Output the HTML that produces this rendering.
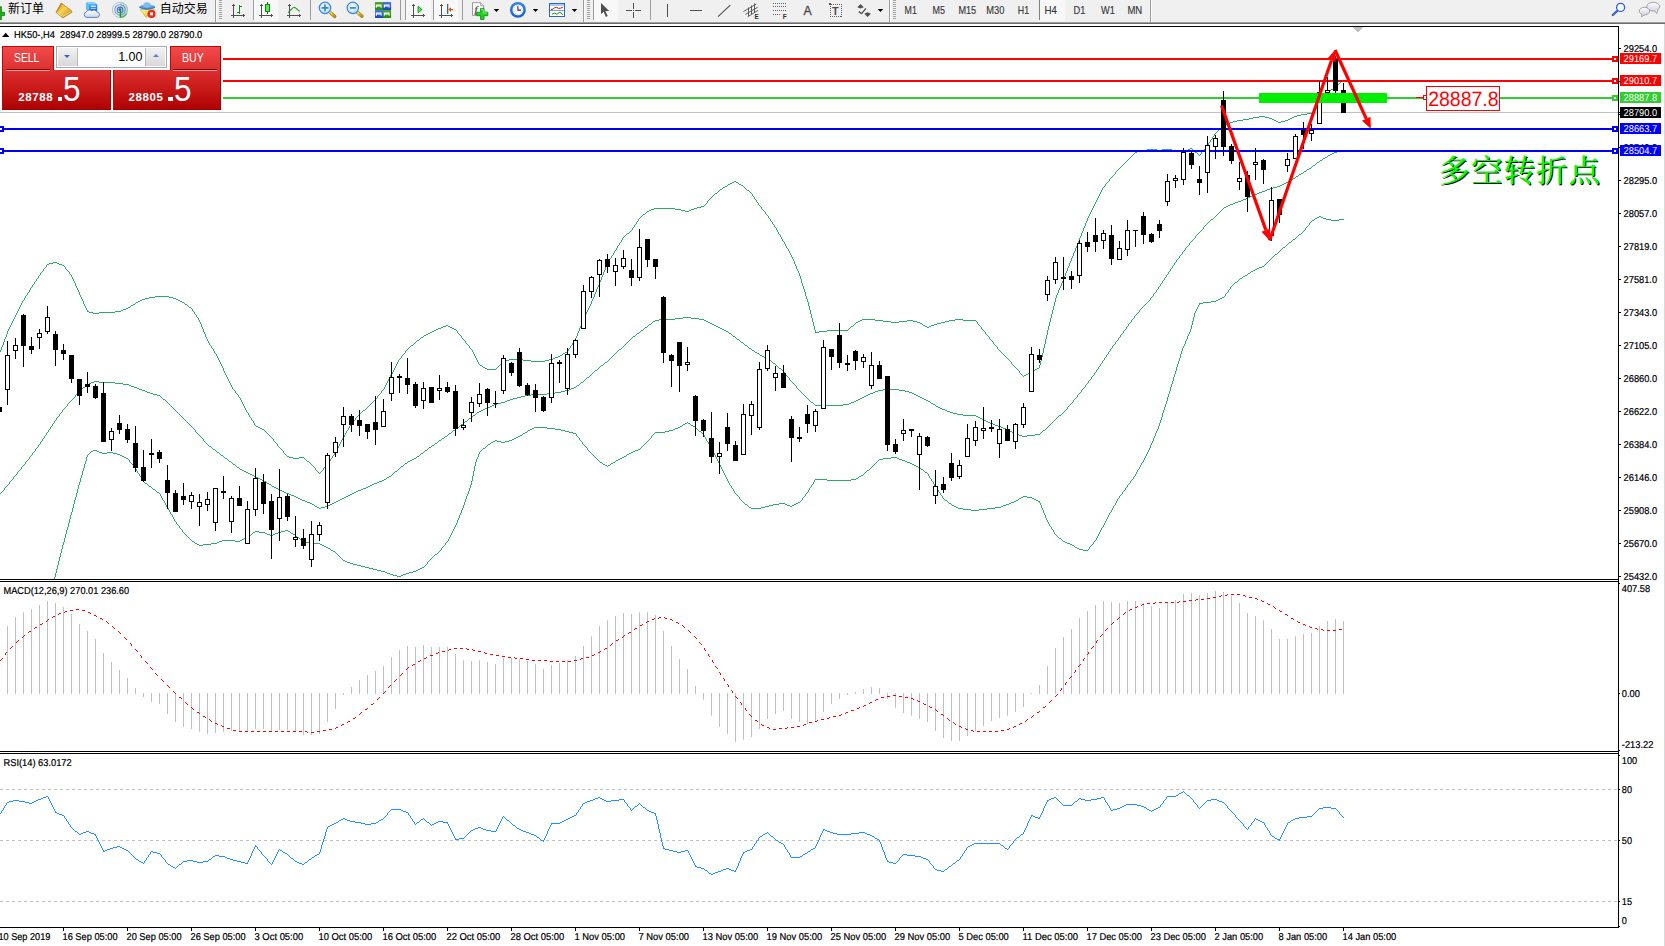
<!DOCTYPE html>
<html><head><meta charset="utf-8"><title>HK50-,H4</title>
<style>
html,body{margin:0;padding:0}
body{width:1665px;height:946px;overflow:hidden;background:#fff;position:relative;font-family:"Liberation Sans","Noto Sans CJK SC",sans-serif}
#tb{position:absolute;left:0;top:0;width:1665px;height:22px;background:#f0f0f0}
#tbl1{position:absolute;left:0;top:22px;width:1665px;height:1px;background:#a0a0a0}
#tbl2{position:absolute;left:0;top:23px;width:1665px;height:1px;background:#696969}
.t{position:absolute;white-space:nowrap}
.cn{font-size:12px;color:#000;top:2px;line-height:14px;font-family:"Liberation Sans","Noto Sans CJK SC",sans-serif}
.tf{font-size:9.5px;color:#404040;top:5px;line-height:11px}
.sep{position:absolute;top:1px;width:1px;height:19px;background:#a0a0a0}
.grip{position:absolute;top:2px;width:3px;height:18px;background:repeating-linear-gradient(to bottom,#b8b8b8 0,#b8b8b8 1px,#f0f0f0 1px,#f0f0f0 2px)}
.sel{position:absolute;top:0;height:21px;background:#f8f8f8}
.dd{position:absolute;top:9px;width:0;height:0;border-left:2.5px solid transparent;border-right:2.5px solid transparent;border-top:3px solid #000}
.ic{position:absolute;top:0;left:0}
#tp{position:absolute;left:0;top:0}
.red{position:absolute;background:linear-gradient(to bottom,#ee4444 0%,#d82828 45%,#b00000 100%)}
</style></head><body>
<div id="tb"></div><div id="tbl1"></div><div id="tbl2"></div>
<svg id="tbsvg" width="1665" height="26" viewBox="0 0 1665 26" style="position:absolute;left:0;top:0">
<defs>
<linearGradient id="gold" x1="0" y1="0" x2="1" y2="1"><stop offset="0" stop-color="#c8901a"/><stop offset="0.45" stop-color="#f8d452"/><stop offset="1" stop-color="#b87c10"/></linearGradient>
<linearGradient id="blu" x1="0" y1="0" x2="0" y2="1"><stop offset="0" stop-color="#35a2ff"/><stop offset="1" stop-color="#1675e0"/></linearGradient>
<linearGradient id="cld" x1="0" y1="0" x2="0" y2="1"><stop offset="0" stop-color="#ffffff"/><stop offset="1" stop-color="#c9d6ea"/></linearGradient>
<linearGradient id="grn" x1="0" y1="0" x2="1" y2="0"><stop offset="0" stop-color="#18b818"/><stop offset="0.5" stop-color="#7af07a"/><stop offset="1" stop-color="#18b818"/></linearGradient>
<linearGradient id="hat" x1="0" y1="0" x2="0" y2="1"><stop offset="0" stop-color="#7fc0ee"/><stop offset="1" stop-color="#2f7fd0"/></linearGradient>
<linearGradient id="face" x1="0" y1="0" x2="1" y2="1"><stop offset="0" stop-color="#fff0a0"/><stop offset="1" stop-color="#e8b820"/></linearGradient>
<radialGradient id="lens" cx="0.45" cy="0.4" r="0.65"><stop offset="0" stop-color="#f4fbff"/><stop offset="1" stop-color="#b4daf6"/></radialGradient>
<linearGradient id="hnd" x1="0" y1="0" x2="1" y2="1"><stop offset="0" stop-color="#f4e27a"/><stop offset="1" stop-color="#b88a10"/></linearGradient>
<radialGradient id="clk" cx="0.5" cy="0.35" r="0.75"><stop offset="0" stop-color="#4aa0ff"/><stop offset="1" stop-color="#0c50c0"/></radialGradient>
<linearGradient id="tblu" x1="0" y1="0" x2="0" y2="1"><stop offset="0" stop-color="#4a7ae8"/><stop offset="1" stop-color="#1a40c0"/></linearGradient>
<linearGradient id="tgrn" x1="0" y1="0" x2="0" y2="1"><stop offset="0" stop-color="#4aaa2a"/><stop offset="1" stop-color="#2a8a10"/></linearGradient>
<g id="axes" fill="#505050" shape-rendering="crispEdges"><rect x="2" y="5" width="1" height="13"/><rect x="0" y="15" width="13" height="1"/><rect x="1" y="5" width="3" height="1"/><rect x="12" y="14" width="1" height="3"/><rect x="2" y="4" width="1" height="1"/><rect x="13" y="15" width="1" height="1"/></g>
<g id="grip" shape-rendering="crispEdges" fill="#a4a4a4"><rect x="0" y="0" width="3" height="1"/><rect x="0" y="2" width="3" height="1"/><rect x="0" y="4" width="3" height="1"/><rect x="0" y="6" width="3" height="1"/><rect x="0" y="8" width="3" height="1"/><rect x="0" y="10" width="3" height="1"/><rect x="0" y="12" width="3" height="1"/><rect x="0" y="14" width="3" height="1"/><rect x="0" y="16" width="3" height="1"/><rect x="0" y="18" width="3" height="1"/></g>
<path id="dd" d="M0,0H5.4L2.7,3.1Z" fill="#000"/>
<g id="win"><path d="M0.8,2.6H6.6V5.8H5.6V4.8H1.8V5.8H0.8Z" fill="#f4f8ff"/></g>
</defs>
<!-- selected backgrounds -->
<g fill="#f8f8f8" shape-rendering="crispEdges">
<rect x="254" y="0" width="24" height="21"/><rect x="406" y="0" width="25" height="21"/><rect x="434" y="0" width="24" height="21"/><rect x="594" y="0" width="24" height="21"/><rect x="1040" y="0" width="25" height="21"/>
</g>
<!-- separators -->
<g fill="#9c9c9c" shape-rendering="crispEdges">
<rect x="215" y="0" width="1" height="22"/><rect x="253" y="0" width="1" height="20"/><rect x="310" y="0" width="1" height="20"/><rect x="400" y="0" width="1" height="20"/><rect x="405" y="0" width="1" height="20"/><rect x="433" y="0" width="1" height="20"/><rect x="462" y="0" width="1" height="20"/><rect x="583" y="0" width="1" height="22"/><rect x="593" y="0" width="1" height="20"/><rect x="650" y="0" width="1" height="20"/><rect x="889" y="0" width="1" height="22"/><rect x="1039" y="0" width="1" height="20" fill="#808080"/><rect x="1150" y="0" width="1" height="22"/>
<rect x="216" y="0" width="1" height="22" fill="#fbfbfb"/><rect x="584" y="0" width="1" height="22" fill="#fbfbfb"/><rect x="890" y="0" width="1" height="22" fill="#fbfbfb"/><rect x="1151" y="0" width="1" height="22" fill="#fbfbfb"/>
</g>
<use href="#grip" x="219"/><use href="#grip" x="587"/><use href="#grip" x="893"/>
<!-- green plus -->
<path d="M-1,6.8H1.4V12.2H4.5V15.6H1.4V19.6H-1Z" fill="#1ab01a" stroke="#0c6c0c" stroke-width="0.7"/>
<text x="8" y="13.3" font-family="Liberation Sans, Noto Sans CJK SC, sans-serif" font-size="12px" fill="#000">新订单</text>
<!-- gold book -->
<g><path d="M61.2,3L71.8,11V12.3L63,17.9L56,12.4Z" fill="url(#gold)" stroke="#a87410" stroke-width="0.7" stroke-linejoin="round"/><path d="M57,12.6L63,16.4L71.4,11.4" fill="none" stroke="#fff2b0" stroke-width="0.7" opacity="0.8"/><path d="M61.4,3.4C60,6 59,9 56.6,12" fill="none" stroke="#b07810" stroke-width="0.8"/></g>
<!-- server cloud -->
<g><path d="M86.2,2.6L93.8,2.3L97.2,4.2V11H89.4L86.2,9.2Z" fill="url(#blu)"/><path d="M86.2,2.6L89.4,4.4V11L86.2,9.2Z" fill="#5cc0ff"/><path d="M86.2,2.6L93.8,2.3L97.2,4.2L89.4,4.4Z" fill="#8ad4ff"/><rect x="90.8" y="5.6" width="5" height="1.3" fill="#eaf6ff"/><rect x="90.8" y="7.9" width="5" height="0.9" fill="#b4dcff"/>
<path d="M86.6,17.4A2.8,2.8 0 0 1 86.4,11.9A3.3,3.3 0 0 1 91.8,10.9A3,3 0 0 1 96.6,11.9A2.8,2.8 0 0 1 97.4,17.4Z" fill="url(#cld)" stroke="#5672b4" stroke-width="0.9"/></g>
<!-- signal -->
<g fill="none"><path d="M120,2A7.9,7.9 0 0 1 120,17.8Z" fill="#5cb85c" opacity="0.35"/><circle cx="120" cy="9.9" r="7.6" stroke="#9fb9e6" stroke-width="0.9"/><circle cx="120" cy="9.9" r="5.2" stroke="#6f98df" stroke-width="1.1"/><circle cx="120" cy="9.9" r="2.8" stroke="#3f73d6" stroke-width="1.1"/><circle cx="119.8" cy="9.6" r="1.3" fill="#1f55c8"/><path d="M120.4,10V17.6" stroke="#18a018" stroke-width="1.4"/><path d="M120.4,17.4A7.6,7.6 0 0 0 126.6,13.6" stroke="#3aa83a" stroke-width="1.2" opacity="0.8"/></g>
<!-- hat -->
<g><path d="M140,9.6H155L146,17.4Z" fill="url(#face)" stroke="#c9a020" stroke-width="0.5"/><ellipse cx="147.2" cy="6.9" rx="8" ry="2.4" fill="url(#hat)"/><ellipse cx="147" cy="5" rx="3.6" ry="2.8" fill="#7cbcec"/><path d="M139.6,7.4Q147,11.2 154.8,7.4" stroke="#2a6fc0" stroke-width="0.8" fill="none"/><circle cx="151.5" cy="13.9" r="4" fill="#d81c10"/><circle cx="151.5" cy="13.9" r="3.4" fill="#f03020"/><rect x="150.1" y="12.5" width="2.8" height="2.8" fill="#fff"/></g>
<text x="159.8" y="13.3" font-family="Liberation Sans, Noto Sans CJK SC, sans-serif" font-size="12px" fill="#000">自动交易</text>
<!-- bar chart -->
<use href="#axes" x="231" y="0"/><g fill="#128a12" shape-rendering="crispEdges"><rect x="239" y="5" width="1" height="9"/><rect x="240" y="6" width="2" height="1"/><rect x="237" y="12" width="2" height="1"/></g>
<!-- candle chart -->
<use href="#axes" x="259" y="0"/><g shape-rendering="crispEdges"><rect x="267" y="2" width="1" height="12" fill="#0c7c0c"/><rect x="265" y="4" width="5" height="8" fill="#0c8a0c"/><rect x="266" y="5" width="3" height="6" fill="#5ce65c"/></g>
<!-- line chart -->
<use href="#axes" x="287" y="0"/><path d="M288,12.6C290.5,11 292.5,7.2 294.2,7.2S297.5,10.3 299.8,11.3" stroke="#1a9a1a" stroke-width="1.1" fill="none"/>
<!-- zoom in -->
<g><path d="M330,12.2L334.8,16.5" stroke="#a07808" stroke-width="3.2" stroke-linecap="round"/><path d="M330,12.2L334.8,16.5" stroke="url(#hnd)" stroke-width="2.2" stroke-linecap="round"/><circle cx="325" cy="7.9" r="5.7" fill="url(#lens)" stroke="#3c84dc" stroke-width="1.2"/><path d="M321.6,7.9H328.4M325,4.5V11.3" stroke="#3a88b8" stroke-width="1.7"/></g>
<!-- zoom out -->
<g><path d="M357.4,12.2L362,16.3" stroke="#a07808" stroke-width="3.2" stroke-linecap="round"/><path d="M357.4,12.2L362,16.3" stroke="url(#hnd)" stroke-width="2.2" stroke-linecap="round"/><circle cx="352.8" cy="7.9" r="5.7" fill="url(#lens)" stroke="#3c84dc" stroke-width="1.2"/><path d="M349.8,7.9H355.8" stroke="#3a88b8" stroke-width="1.7"/></g>
<!-- tile -->
<g><rect x="375" y="2" width="8.1" height="8" fill="url(#tgrn)"/><rect x="383" y="2" width="8.1" height="8" fill="url(#tblu)"/><rect x="375" y="10" width="8.1" height="8" fill="url(#tblu)"/><rect x="383" y="10" width="8.1" height="8" fill="url(#tgrn)"/><use href="#win" x="375" y="2"/><use href="#win" x="383" y="2"/><use href="#win" x="375" y="10"/><use href="#win" x="383" y="10"/><rect x="377" y="5.8" width="3.6" height="0.8" fill="#7ac860"/><rect x="385" y="5.8" width="3.6" height="0.8" fill="#7a9af0"/><rect x="377" y="13.8" width="3.6" height="0.8" fill="#7a9af0"/><rect x="385" y="13.8" width="3.6" height="0.8" fill="#7ac860"/></g>
<!-- autoscroll -->
<use href="#axes" x="411" y="0"/><path d="M418,6.3L422.2,9.6L418,12.8Z" fill="#5ce05c" stroke="#129012" stroke-width="0.8"/>
<!-- chart shift -->
<use href="#axes" x="439" y="0"/><rect x="447" y="4" width="1.3" height="10" fill="#1a70a8"/><path d="M448.3,9.6L451,7.2V8.9H453.2V10.3H451V12Z" fill="#e85000"/>
<!-- indicators -->
<g><path d="M472.5,2.7H480.6L483.6,5.7V15.3H472.5Z" fill="#fdfdfd" stroke="#8c8c8c" stroke-width="0.9"/><path d="M480.6,2.7V5.7H483.6" fill="#e8e8e8" stroke="#8c8c8c" stroke-width="0.7"/><text x="474.6" y="12.6" font-family="Liberation Serif, serif" font-style="italic" font-weight="bold" font-size="10px" fill="#555">f</text><path d="M480.5,8.4H484V12.2H487.8V15.7H484V19.5H480.5V15.7H476.6V12.2H480.5Z" fill="#22d022" stroke="#0e8c0e" stroke-width="0.8"/><path d="M481.2,9.4H483.2V12.9H486.8" stroke="#8af88a" stroke-width="0.8" fill="none"/></g>
<use href="#dd" x="493.8" y="8.9"/>
<!-- clock -->
<g><circle cx="517.9" cy="9.9" r="7.9" fill="url(#clk)"/><circle cx="517.9" cy="9.9" r="5.4" fill="#f6faff"/><path d="M517.9,6.2V10.1H521" stroke="#303030" stroke-width="1.1" fill="none"/><circle cx="517.9" cy="9.9" r="4.3" fill="none" stroke="#9ab0d0" stroke-width="0.6" stroke-dasharray="0.7,1.55"/></g>
<use href="#dd" x="532.8" y="8.9"/>
<!-- template -->
<g shape-rendering="crispEdges"><rect x="549" y="3" width="16" height="14" fill="#2a68c8"/><rect x="550" y="4" width="14" height="2" fill="#a8ccf8"/><rect x="550" y="6" width="14" height="4" fill="#fff"/><rect x="550" y="11" width="14" height="5" fill="#fff"/><rect x="550" y="10" width="14" height="1" fill="#7aa4e0"/></g><path d="M551,9.4L553,9.2L554.5,7.9L556.5,7.3L558.5,8.3L560.5,8.2L562.8,7.2" stroke="#a82000" stroke-width="1" fill="none"/><path d="M552,14.2L554.5,13.2L557,14.3L559.8,12.2L562.8,14.6" stroke="#108a10" stroke-width="1" fill="none"/>
<use href="#dd" x="571.8" y="8.9"/>
<!-- cursor -->
<path d="M601,3V14.2L603.6,11.8L605.9,16.9L607.7,16.1L605.4,11.1H609.2Z" fill="#505050"/>
<!-- crosshair -->
<g fill="#505050" shape-rendering="crispEdges"><rect x="633" y="3" width="1" height="6"/><rect x="633" y="12" width="1" height="6"/><rect x="626" y="10" width="6" height="1"/><rect x="635" y="10" width="6" height="1"/><rect x="633" y="10" width="1" height="1"/></g>
<!-- vline hline trend -->
<g fill="#505050" shape-rendering="crispEdges"><rect x="667" y="4" width="1" height="13"/><rect x="690" y="10" width="12" height="1"/></g><path d="M718,16.7L730.3,5.2" stroke="#505050" stroke-width="1.1"/>
<!-- channel -->
<g stroke="#505050" stroke-width="0.9" fill="none"><path d="M743.4,11.6L756.3,4M745.4,14.4L757.6,7.3M747.6,16.8L758,10.4M748.5,7.5V16M751.5,5.5V14.2M754.5,3.4V12.4"/></g><text x="754.6" y="18.9" font-family="Liberation Sans, sans-serif" font-weight="bold" font-size="6.4px" fill="#303030">E</text>
<!-- fibo -->
<g stroke="#606060" stroke-width="1" stroke-dasharray="1,1" shape-rendering="crispEdges"><path d="M773,3.5H786M773,6.5H786M773,10.5H786M773,14.5H781"/></g><text x="782.8" y="18.9" font-family="Liberation Sans, sans-serif" font-weight="bold" font-size="6.4px" fill="#303030">F</text>
<!-- A -->
<text x="803.4" y="14.9" font-family="Liberation Sans, sans-serif" font-size="12.3px" fill="#505050" stroke="#505050" stroke-width="0.35">A</text>
<!-- T box -->
<rect x="830.5" y="4.5" width="11" height="12" fill="none" stroke="#606060" stroke-width="1" stroke-dasharray="1,1" shape-rendering="crispEdges"/><rect x="829" y="3" width="2" height="2" fill="#505050"/><text x="832.1" y="14.9" font-family="Liberation Sans, sans-serif" font-weight="bold" font-size="11px" fill="#505050">T</text>
<!-- arrows -->
<g fill="#505050"><path d="M860.5,4L863.8,7.2L860.5,8.6L857.3,7.2Z"/><path d="M867.6,16.9L864.3,13.8L867.6,12.3L870.9,13.8Z"/><path d="M858.8,11.6L861.6,13.6L865.9,8.4" stroke="#505050" stroke-width="1.3" fill="none"/></g>
<use href="#dd" x="877.8" y="8.9"/>
<!-- timeframes -->
<g font-family="Liberation Sans, sans-serif" font-size="10.2px" fill="#383838" stroke="#383838" stroke-width="0.15">
<text x="904.6" y="13.9" textLength="12.2" lengthAdjust="spacingAndGlyphs">M1</text><text x="932.6" y="13.9" textLength="12.4" lengthAdjust="spacingAndGlyphs">M5</text><text x="958.4" y="13.9" textLength="17.8" lengthAdjust="spacingAndGlyphs">M15</text><text x="986.3" y="13.9" textLength="18.0" lengthAdjust="spacingAndGlyphs">M30</text><text x="1017.8" y="13.9" textLength="11.3" lengthAdjust="spacingAndGlyphs">H1</text><text x="1044.4" y="13.9" textLength="12.4" lengthAdjust="spacingAndGlyphs">H4</text><text x="1073.6" y="13.9" textLength="11.8" lengthAdjust="spacingAndGlyphs">D1</text><text x="1101.0" y="13.9" textLength="13.8" lengthAdjust="spacingAndGlyphs">W1</text><text x="1127.4" y="13.9" textLength="14.8" lengthAdjust="spacingAndGlyphs">MN</text>
</g>
<!-- search -->
<g><path d="M1617.4,10.7L1612.8,15" stroke="#2050c8" stroke-width="2.2" stroke-linecap="round"/><path d="M1617.4,10.7L1612.8,15" stroke="#7aa0f0" stroke-width="1" stroke-dasharray="0.8,0.8"/><circle cx="1620.6" cy="7.4" r="4" fill="#fbfcff" stroke="#2a60d8" stroke-width="1.3"/></g>
<!-- chat -->
<defs><linearGradient id="bub" x1="0" y1="0" x2="0" y2="1"><stop offset="0" stop-color="#ffffff"/><stop offset="1" stop-color="#d4d4e6"/></linearGradient></defs>
<g fill="url(#bub)" stroke="#8e8e8e" stroke-width="0.8"><path d="M1654.6,10.4L1656.8,13.5L1657.6,9.9Z"/><ellipse cx="1653.2" cy="6.7" rx="6.5" ry="4.4"/><path d="M1655,10.2L1656.6,12.6L1657.2,9.8Z" stroke="none"/><path d="M1642.4,14L1641.4,16.8L1644.8,14.6Z"/><ellipse cx="1644.4" cy="11.1" rx="5.2" ry="3.8"/><path d="M1642.7,13.8L1642,15.8L1644.4,14.4Z" stroke="none"/></g>
</svg>

<svg id="chart" width="1665" height="946" viewBox="0 0 1665 946" text-rendering="geometricPrecision" style="position:absolute;left:0;top:0">
<defs><clipPath id="cm"><rect x="0" y="27" width="1618" height="552"/></clipPath></defs>
<g shape-rendering="crispEdges">
<rect x="0" y="26" width="1619" height="1" fill="#000"/>
<rect x="0" y="579" width="1619" height="1" fill="#000"/>
<rect x="0" y="581" width="1619" height="1" fill="#000"/>
<rect x="0" y="751" width="1619" height="1" fill="#000"/>
<rect x="0" y="753" width="1619" height="1" fill="#000"/>
<rect x="0" y="927" width="1619" height="1" fill="#000"/>
<rect x="1618" y="26" width="1" height="902" fill="#000"/>
<rect x="1664" y="24" width="1" height="922" fill="#d9d9d9"/>
<rect x="0" y="112" width="1618" height="1" fill="#c0c0c0"/>
<line x1="0" y1="789.5" x2="1618" y2="789.5" stroke="#c0c0c0" stroke-width="1" stroke-dasharray="3,3"/>
<line x1="0" y1="840.5" x2="1618" y2="840.5" stroke="#c0c0c0" stroke-width="1" stroke-dasharray="3,3"/>
<line x1="0" y1="901.5" x2="1618" y2="901.5" stroke="#c0c0c0" stroke-width="1" stroke-dasharray="3,3"/>
<rect x="7" y="626.0" width="1" height="68.0" fill="#c0c0c0"/>
<rect x="15" y="617.0" width="1" height="77.0" fill="#c0c0c0"/>
<rect x="23" y="612.0" width="1" height="82.0" fill="#c0c0c0"/>
<rect x="31" y="609.0" width="1" height="85.0" fill="#c0c0c0"/>
<rect x="39" y="605.0" width="1" height="89.0" fill="#c0c0c0"/>
<rect x="47" y="601.0" width="1" height="93.0" fill="#c0c0c0"/>
<rect x="55" y="603.0" width="1" height="91.0" fill="#c0c0c0"/>
<rect x="63" y="607.0" width="1" height="87.0" fill="#c0c0c0"/>
<rect x="71" y="614.0" width="1" height="80.0" fill="#c0c0c0"/>
<rect x="79" y="624.0" width="1" height="70.0" fill="#c0c0c0"/>
<rect x="87" y="631.0" width="1" height="63.0" fill="#c0c0c0"/>
<rect x="95" y="639.0" width="1" height="55.0" fill="#c0c0c0"/>
<rect x="103" y="653.0" width="1" height="41.0" fill="#c0c0c0"/>
<rect x="111" y="662.0" width="1" height="32.0" fill="#c0c0c0"/>
<rect x="119" y="670.0" width="1" height="24.0" fill="#c0c0c0"/>
<rect x="127" y="678.0" width="1" height="16.0" fill="#c0c0c0"/>
<rect x="135" y="688.0" width="1" height="6.0" fill="#c0c0c0"/>
<rect x="143" y="693.0" width="1" height="4.0" fill="#c0c0c0"/>
<rect x="151" y="693.0" width="1" height="9.0" fill="#c0c0c0"/>
<rect x="159" y="693.0" width="1" height="11.0" fill="#c0c0c0"/>
<rect x="167" y="693.0" width="1" height="21.0" fill="#c0c0c0"/>
<rect x="175" y="693.0" width="1" height="29.0" fill="#c0c0c0"/>
<rect x="183" y="693.0" width="1" height="34.0" fill="#c0c0c0"/>
<rect x="191" y="693.0" width="1" height="36.0" fill="#c0c0c0"/>
<rect x="199" y="693.0" width="1" height="39.0" fill="#c0c0c0"/>
<rect x="207" y="693.0" width="1" height="41.0" fill="#c0c0c0"/>
<rect x="215" y="693.0" width="1" height="40.0" fill="#c0c0c0"/>
<rect x="223" y="693.0" width="1" height="39.0" fill="#c0c0c0"/>
<rect x="231" y="693.0" width="1" height="38.0" fill="#c0c0c0"/>
<rect x="239" y="693.0" width="1" height="39.0" fill="#c0c0c0"/>
<rect x="247" y="693.0" width="1" height="39.0" fill="#c0c0c0"/>
<rect x="255" y="693.0" width="1" height="36.0" fill="#c0c0c0"/>
<rect x="263" y="693.0" width="1" height="36.0" fill="#c0c0c0"/>
<rect x="271" y="693.0" width="1" height="38.0" fill="#c0c0c0"/>
<rect x="279" y="693.0" width="1" height="37.0" fill="#c0c0c0"/>
<rect x="287" y="693.0" width="1" height="37.0" fill="#c0c0c0"/>
<rect x="295" y="693.0" width="1" height="39.0" fill="#c0c0c0"/>
<rect x="303" y="693.0" width="1" height="42.0" fill="#c0c0c0"/>
<rect x="311" y="693.0" width="1" height="42.0" fill="#c0c0c0"/>
<rect x="319" y="693.0" width="1" height="41.0" fill="#c0c0c0"/>
<rect x="327" y="693.0" width="1" height="29.0" fill="#c0c0c0"/>
<rect x="335" y="693.0" width="1" height="16.0" fill="#c0c0c0"/>
<rect x="343" y="693.0" width="1" height="2.0" fill="#c0c0c0"/>
<rect x="351" y="687.0" width="1" height="7.0" fill="#c0c0c0"/>
<rect x="359" y="680.0" width="1" height="14.0" fill="#c0c0c0"/>
<rect x="367" y="675.0" width="1" height="19.0" fill="#c0c0c0"/>
<rect x="375" y="671.0" width="1" height="23.0" fill="#c0c0c0"/>
<rect x="383" y="666.0" width="1" height="28.0" fill="#c0c0c0"/>
<rect x="391" y="657.0" width="1" height="37.0" fill="#c0c0c0"/>
<rect x="399" y="650.0" width="1" height="44.0" fill="#c0c0c0"/>
<rect x="407" y="646.0" width="1" height="48.0" fill="#c0c0c0"/>
<rect x="415" y="647.0" width="1" height="47.0" fill="#c0c0c0"/>
<rect x="423" y="645.0" width="1" height="49.0" fill="#c0c0c0"/>
<rect x="431" y="647.0" width="1" height="47.0" fill="#c0c0c0"/>
<rect x="439" y="647.0" width="1" height="47.0" fill="#c0c0c0"/>
<rect x="447" y="647.0" width="1" height="47.0" fill="#c0c0c0"/>
<rect x="455" y="654.0" width="1" height="40.0" fill="#c0c0c0"/>
<rect x="463" y="660.0" width="1" height="34.0" fill="#c0c0c0"/>
<rect x="471" y="661.0" width="1" height="33.0" fill="#c0c0c0"/>
<rect x="479" y="660.0" width="1" height="34.0" fill="#c0c0c0"/>
<rect x="487" y="662.0" width="1" height="32.0" fill="#c0c0c0"/>
<rect x="495" y="664.0" width="1" height="30.0" fill="#c0c0c0"/>
<rect x="503" y="658.0" width="1" height="36.0" fill="#c0c0c0"/>
<rect x="511" y="658.0" width="1" height="36.0" fill="#c0c0c0"/>
<rect x="519" y="659.0" width="1" height="35.0" fill="#c0c0c0"/>
<rect x="527" y="661.0" width="1" height="33.0" fill="#c0c0c0"/>
<rect x="535" y="664.0" width="1" height="30.0" fill="#c0c0c0"/>
<rect x="543" y="669.0" width="1" height="25.0" fill="#c0c0c0"/>
<rect x="551" y="665.0" width="1" height="29.0" fill="#c0c0c0"/>
<rect x="559" y="663.0" width="1" height="31.0" fill="#c0c0c0"/>
<rect x="567" y="660.0" width="1" height="34.0" fill="#c0c0c0"/>
<rect x="575" y="656.0" width="1" height="38.0" fill="#c0c0c0"/>
<rect x="583" y="646.0" width="1" height="48.0" fill="#c0c0c0"/>
<rect x="591" y="636.0" width="1" height="58.0" fill="#c0c0c0"/>
<rect x="599" y="626.0" width="1" height="68.0" fill="#c0c0c0"/>
<rect x="607" y="620.0" width="1" height="74.0" fill="#c0c0c0"/>
<rect x="615" y="616.0" width="1" height="78.0" fill="#c0c0c0"/>
<rect x="623" y="613.0" width="1" height="81.0" fill="#c0c0c0"/>
<rect x="631" y="614.0" width="1" height="80.0" fill="#c0c0c0"/>
<rect x="639" y="612.0" width="1" height="82.0" fill="#c0c0c0"/>
<rect x="647" y="612.0" width="1" height="82.0" fill="#c0c0c0"/>
<rect x="655" y="615.0" width="1" height="79.0" fill="#c0c0c0"/>
<rect x="663" y="631.0" width="1" height="63.0" fill="#c0c0c0"/>
<rect x="671" y="646.0" width="1" height="48.0" fill="#c0c0c0"/>
<rect x="679" y="659.0" width="1" height="35.0" fill="#c0c0c0"/>
<rect x="687" y="669.0" width="1" height="25.0" fill="#c0c0c0"/>
<rect x="695" y="686.0" width="1" height="8.0" fill="#c0c0c0"/>
<rect x="703" y="693.0" width="1" height="7.0" fill="#c0c0c0"/>
<rect x="711" y="693.0" width="1" height="23.0" fill="#c0c0c0"/>
<rect x="719" y="693.0" width="1" height="34.0" fill="#c0c0c0"/>
<rect x="727" y="693.0" width="1" height="41.0" fill="#c0c0c0"/>
<rect x="735" y="693.0" width="1" height="49.0" fill="#c0c0c0"/>
<rect x="743" y="693.0" width="1" height="47.0" fill="#c0c0c0"/>
<rect x="751" y="693.0" width="1" height="44.0" fill="#c0c0c0"/>
<rect x="759" y="693.0" width="1" height="36.0" fill="#c0c0c0"/>
<rect x="767" y="693.0" width="1" height="26.0" fill="#c0c0c0"/>
<rect x="775" y="693.0" width="1" height="21.0" fill="#c0c0c0"/>
<rect x="783" y="693.0" width="1" height="18.0" fill="#c0c0c0"/>
<rect x="791" y="693.0" width="1" height="26.0" fill="#c0c0c0"/>
<rect x="799" y="693.0" width="1" height="29.0" fill="#c0c0c0"/>
<rect x="807" y="693.0" width="1" height="31.0" fill="#c0c0c0"/>
<rect x="815" y="693.0" width="1" height="29.0" fill="#c0c0c0"/>
<rect x="823" y="693.0" width="1" height="19.0" fill="#c0c0c0"/>
<rect x="831" y="693.0" width="1" height="11.0" fill="#c0c0c0"/>
<rect x="839" y="693.0" width="1" height="6.0" fill="#c0c0c0"/>
<rect x="847" y="693.0" width="1" height="2.0" fill="#c0c0c0"/>
<rect x="855" y="692.0" width="1" height="2.0" fill="#c0c0c0"/>
<rect x="863" y="689.0" width="1" height="5.0" fill="#c0c0c0"/>
<rect x="871" y="687.0" width="1" height="7.0" fill="#c0c0c0"/>
<rect x="879" y="688.0" width="1" height="6.0" fill="#c0c0c0"/>
<rect x="887" y="693.0" width="1" height="6.0" fill="#c0c0c0"/>
<rect x="895" y="693.0" width="1" height="15.0" fill="#c0c0c0"/>
<rect x="903" y="693.0" width="1" height="20.0" fill="#c0c0c0"/>
<rect x="911" y="693.0" width="1" height="23.0" fill="#c0c0c0"/>
<rect x="919" y="693.0" width="1" height="26.0" fill="#c0c0c0"/>
<rect x="927" y="693.0" width="1" height="29.0" fill="#c0c0c0"/>
<rect x="935" y="693.0" width="1" height="38.0" fill="#c0c0c0"/>
<rect x="943" y="693.0" width="1" height="45.0" fill="#c0c0c0"/>
<rect x="951" y="693.0" width="1" height="48.0" fill="#c0c0c0"/>
<rect x="959" y="693.0" width="1" height="48.0" fill="#c0c0c0"/>
<rect x="967" y="693.0" width="1" height="43.0" fill="#c0c0c0"/>
<rect x="975" y="693.0" width="1" height="38.0" fill="#c0c0c0"/>
<rect x="983" y="693.0" width="1" height="33.0" fill="#c0c0c0"/>
<rect x="991" y="693.0" width="1" height="28.0" fill="#c0c0c0"/>
<rect x="999" y="693.0" width="1" height="25.0" fill="#c0c0c0"/>
<rect x="1007" y="693.0" width="1" height="23.0" fill="#c0c0c0"/>
<rect x="1015" y="693.0" width="1" height="19.0" fill="#c0c0c0"/>
<rect x="1023" y="693.0" width="1" height="14.0" fill="#c0c0c0"/>
<rect x="1031" y="693.0" width="1" height="1.0" fill="#c0c0c0"/>
<rect x="1039" y="685.0" width="1" height="9.0" fill="#c0c0c0"/>
<rect x="1047" y="666.0" width="1" height="28.0" fill="#c0c0c0"/>
<rect x="1055" y="648.0" width="1" height="46.0" fill="#c0c0c0"/>
<rect x="1063" y="637.0" width="1" height="57.0" fill="#c0c0c0"/>
<rect x="1071" y="629.0" width="1" height="65.0" fill="#c0c0c0"/>
<rect x="1079" y="618.0" width="1" height="76.0" fill="#c0c0c0"/>
<rect x="1087" y="611.0" width="1" height="83.0" fill="#c0c0c0"/>
<rect x="1095" y="605.0" width="1" height="89.0" fill="#c0c0c0"/>
<rect x="1103" y="601.0" width="1" height="93.0" fill="#c0c0c0"/>
<rect x="1111" y="602.0" width="1" height="92.0" fill="#c0c0c0"/>
<rect x="1119" y="603.0" width="1" height="91.0" fill="#c0c0c0"/>
<rect x="1127" y="601.0" width="1" height="93.0" fill="#c0c0c0"/>
<rect x="1135" y="601.0" width="1" height="93.0" fill="#c0c0c0"/>
<rect x="1143" y="603.0" width="1" height="91.0" fill="#c0c0c0"/>
<rect x="1151" y="606.0" width="1" height="88.0" fill="#c0c0c0"/>
<rect x="1159" y="608.0" width="1" height="86.0" fill="#c0c0c0"/>
<rect x="1167" y="603.0" width="1" height="91.0" fill="#c0c0c0"/>
<rect x="1175" y="600.0" width="1" height="94.0" fill="#c0c0c0"/>
<rect x="1183" y="594.0" width="1" height="100.0" fill="#c0c0c0"/>
<rect x="1191" y="593.0" width="1" height="101.0" fill="#c0c0c0"/>
<rect x="1199" y="595.0" width="1" height="99.0" fill="#c0c0c0"/>
<rect x="1207" y="593.0" width="1" height="101.0" fill="#c0c0c0"/>
<rect x="1215" y="591.0" width="1" height="103.0" fill="#c0c0c0"/>
<rect x="1223" y="592.0" width="1" height="102.0" fill="#c0c0c0"/>
<rect x="1231" y="596.0" width="1" height="98.0" fill="#c0c0c0"/>
<rect x="1239" y="603.0" width="1" height="91.0" fill="#c0c0c0"/>
<rect x="1247" y="613.0" width="1" height="81.0" fill="#c0c0c0"/>
<rect x="1255" y="616.0" width="1" height="78.0" fill="#c0c0c0"/>
<rect x="1263" y="620.0" width="1" height="74.0" fill="#c0c0c0"/>
<rect x="1271" y="629.0" width="1" height="65.0" fill="#c0c0c0"/>
<rect x="1279" y="639.0" width="1" height="55.0" fill="#c0c0c0"/>
<rect x="1287" y="639.0" width="1" height="55.0" fill="#c0c0c0"/>
<rect x="1295" y="636.0" width="1" height="58.0" fill="#c0c0c0"/>
<rect x="1303" y="634.0" width="1" height="60.0" fill="#c0c0c0"/>
<rect x="1311" y="633.0" width="1" height="61.0" fill="#c0c0c0"/>
<rect x="1319" y="626.0" width="1" height="68.0" fill="#c0c0c0"/>
<rect x="1327" y="621.0" width="1" height="73.0" fill="#c0c0c0"/>
<rect x="1335" y="619.0" width="1" height="75.0" fill="#c0c0c0"/>
<rect x="1343" y="621.0" width="1" height="73.0" fill="#c0c0c0"/>
</g>
<g clip-path="url(#cm)" shape-rendering="crispEdges">
<path d="M1341 81.5h2M1337 84.5h2M1331 89.5h2M1307 113.5h5M1301 114.5h6M1297 115.5h4M1259 116.5h6M1294 116.5h3M1253 117.5h6M1265 117.5h4M1292 117.5h2M1249 118.5h4M1269 118.5h3M1290 118.5h2M1243 119.5h6M1272 119.5h2M1288 119.5h2M1237 120.5h6M1274 120.5h2M1285 120.5h3M1233 121.5h4M1276 121.5h2M1281 121.5h4M1230 122.5h3M1278 122.5h3M1228 123.5h2M1226 124.5h2M1224 125.5h2M1219 129.5h2M1190 148.5h2M1147 149.5h10M1162 149.5h10M1188 149.5h2M1139 150.5h8M1156 150.5h6M1171 150.5h17M1137 151.5h2M1135 152.5h2M1195 152.5h2M734 181.5h2M732 182.5h2M736 182.5h2M730 183.5h2M728 184.5h2M739 184.5h2M741 185.5h2M725 186.5h2M723 187.5h2M720 189.5h2M747 190.5h2M715 193.5h2M701 206.5h3M697 207.5h4M654 208.5h21M694 208.5h3M651 209.5h3M675 209.5h6M691 209.5h3M649 210.5h2M681 210.5h4M689 210.5h2M647 211.5h2M685 211.5h4M643 214.5h2M627 233.5h2M53 262.5h4M49 263.5h4M57 263.5h2M47 264.5h2M59 264.5h3M62 265.5h2M155 296.5h14M149 297.5h6M169 297.5h4M145 298.5h4M173 298.5h3M142 299.5h3M176 299.5h2M140 300.5h2M178 300.5h2M138 301.5h2M180 301.5h2M136 302.5h2M182 302.5h2M133 304.5h2M185 304.5h2M131 305.5h2M128 307.5h2M189 307.5h2M126 308.5h2M123 309.5h3M121 310.5h2M87 311.5h2M115 311.5h6M89 312.5h4M99 312.5h16M93 313.5h6M862 319.5h13M955 319.5h8M860 320.5h2M875 320.5h8M907 320.5h6M949 320.5h6M963 320.5h13M858 321.5h2M883 321.5h8M899 321.5h8M913 321.5h4M945 321.5h4M856 322.5h2M891 322.5h8M917 322.5h3M941 322.5h4M920 323.5h2M937 323.5h4M934 324.5h3M446 325.5h2M923 325.5h2M931 325.5h3M443 326.5h3M448 326.5h2M851 326.5h2M925 326.5h2M929 326.5h2M441 327.5h2M450 327.5h2M927 327.5h2M438 328.5h3M452 328.5h2M436 329.5h2M454 329.5h2M434 330.5h2M827 330.5h21M432 331.5h2M819 331.5h8M430 332.5h2M815 332.5h4M428 333.5h2M426 334.5h2M424 335.5h2M421 337.5h2M417 340.5h2M411 345.5h2M565 352.5h2M563 353.5h2M560 355.5h2M558 356.5h2M555 357.5h3M553 358.5h2M509 359.5h14M549 359.5h4M505 360.5h4M523 360.5h8M545 360.5h4M503 361.5h2M531 361.5h14M480 365.5h2M483 367.5h2M485 368.5h2M1037 368.5h2M487 369.5h9M1035 369.5h2M1032 371.5h2M1030 372.5h2M1028 373.5h2M1026 374.5h2M1024 375.5h2M363 410.5h2M256 426.5h2M258 427.5h2M260 428.5h2M262 429.5h2M287 456.5h2M289 457.5h4M299 457.5h5M293 458.5h6M307 461.5h2M0.5 350v2M1.5 347v3M2.5 345v2M3.5 342v3M4.5 339v3M5.5 337v2M6.5 334v3M7.5 331v3M8.5 329v2M9.5 327v2M10.5 325v2M11.5 323v2M12.5 321v2M13.5 319v2M14.5 317v2M15.5 315v2M16.5 313v2M17.5 311v2M18.5 309v2M19.5 307v2M20.5 305v2M21.5 303v2M22.5 301v2M23.5 300v1M24.5 298v2M25.5 296v2M26.5 295v1M27.5 293v2M28.5 292v1M29.5 290v2M30.5 288v2M31.5 287v1M32.5 285v2M33.5 284v1M34.5 282v2M35.5 281v1M36.5 279v2M37.5 278v1M38.5 276v2M39.5 275v1M40.5 273v2M41.5 272v1M42.5 271v1M43.5 269v2M44.5 268v1M45.5 267v1M46.5 265v2M64.5 266v1M65.5 267v2M66.5 269v1M67.5 270v1M68.5 271v1M69.5 272v2M70.5 274v1M71.5 275v2M72.5 277v2M73.5 279v2M74.5 281v2M75.5 283v3M76.5 286v2M77.5 288v2M78.5 290v2M79.5 292v3M80.5 295v2M81.5 297v2M82.5 299v2M83.5 301v3M84.5 304v2M85.5 306v2M86.5 308v2M87.5 310v1M130.5 306v1M135.5 303v1M184.5 303v1M187.5 305v1M188.5 306v1M191.5 308v1M192.5 309v2M193.5 311v1M194.5 312v2M195.5 314v1M196.5 315v2M197.5 317v1M198.5 318v2M199.5 320v2M200.5 322v2M201.5 324v3M202.5 327v2M203.5 329v3M204.5 332v2M205.5 334v3M206.5 337v2M207.5 339v2M208.5 341v2M209.5 343v2M210.5 345v1M211.5 346v2M212.5 348v1M213.5 349v2M214.5 351v2M215.5 353v1M216.5 354v2M217.5 356v2M218.5 358v2M219.5 360v2M220.5 362v2M221.5 364v2M222.5 366v2M223.5 368v3M224.5 371v2M225.5 373v2M226.5 375v2M227.5 377v2M228.5 379v2M229.5 381v2M230.5 383v2M231.5 385v2M232.5 387v2M233.5 389v1M234.5 390v1M235.5 391v2M236.5 393v1M237.5 394v1M238.5 395v2M239.5 397v1M240.5 398v2M241.5 400v2M242.5 402v2M243.5 404v2M244.5 406v2M245.5 408v2M246.5 410v2M247.5 412v1M248.5 413v2M249.5 415v2M250.5 417v1M251.5 418v2M252.5 420v1M253.5 421v2M254.5 423v2M255.5 425v1M264.5 430v1M265.5 431v1M266.5 432v1M267.5 433v1M268.5 434v1M269.5 435v1M270.5 436v1M271.5 437v1M272.5 438v1M273.5 439v2M274.5 441v1M275.5 442v1M276.5 443v1M277.5 444v2M278.5 446v1M279.5 447v1M280.5 448v1M281.5 449v1M282.5 450v1M283.5 451v2M284.5 453v1M285.5 454v1M286.5 455v1M304.5 458v1M305.5 459v1M306.5 460v1M309.5 462v1M310.5 463v1M311.5 464v1M312.5 465v1M313.5 466v1M314.5 467v1M315.5 468v2M316.5 470v1M317.5 471v1M318.5 472v1M319.5 473v1M320.5 472v1M321.5 471v1M322.5 470v1M323.5 468v2M324.5 467v1M325.5 466v1M326.5 465v1M327.5 464v1M328.5 462v2M329.5 461v1M330.5 459v2M331.5 458v1M332.5 456v2M333.5 455v1M334.5 453v2M335.5 452v1M336.5 450v2M337.5 448v2M338.5 446v2M339.5 444v2M340.5 442v2M341.5 440v2M342.5 438v2M343.5 437v1M344.5 435v2M345.5 433v2M346.5 431v2M347.5 430v1M348.5 428v2M349.5 426v2M350.5 424v2M351.5 423v1M352.5 422v1M353.5 421v1M354.5 420v1M355.5 418v2M356.5 417v1M357.5 416v1M358.5 415v1M359.5 414v1M360.5 413v1M361.5 412v1M362.5 411v1M365.5 409v1M366.5 408v1M367.5 407v1M368.5 406v1M369.5 405v1M370.5 404v1M371.5 403v1M372.5 402v1M373.5 401v1M374.5 400v1M375.5 399v1M376.5 398v1M377.5 396v2M378.5 395v1M379.5 394v1M380.5 393v1M381.5 391v2M382.5 390v1M383.5 389v1M384.5 387v2M385.5 385v2M386.5 383v2M387.5 381v2M388.5 379v2M389.5 377v2M390.5 375v2M391.5 374v1M392.5 372v2M393.5 370v2M394.5 368v2M395.5 366v2M396.5 364v2M397.5 362v2M398.5 360v2M399.5 359v1M400.5 358v1M401.5 356v2M402.5 355v1M403.5 354v1M404.5 353v1M405.5 351v2M406.5 350v1M407.5 349v1M408.5 348v1M409.5 347v1M410.5 346v1M413.5 344v1M414.5 343v1M415.5 342v1M416.5 341v1M419.5 339v1M420.5 338v1M423.5 336v1M456.5 330v1M457.5 331v2M458.5 333v1M459.5 334v1M460.5 335v1M461.5 336v2M462.5 338v1M463.5 339v1M464.5 340v1M465.5 341v2M466.5 343v1M467.5 344v1M468.5 345v1M469.5 346v2M470.5 348v1M471.5 349v1M472.5 350v2M473.5 352v2M474.5 354v2M475.5 356v2M476.5 358v2M477.5 360v2M478.5 362v2M479.5 364v1M482.5 366v1M496.5 368v1M497.5 367v1M498.5 366v1M499.5 365v1M500.5 364v1M501.5 363v1M502.5 362v1M562.5 354v1M567.5 351v1M568.5 349v2M569.5 348v1M570.5 346v2M571.5 345v1M572.5 343v2M573.5 342v1M574.5 340v2M575.5 338v2M576.5 336v2M577.5 333v3M578.5 331v2M579.5 328v3M580.5 326v2M581.5 323v3M582.5 321v2M583.5 318v3M584.5 316v2M585.5 314v2M586.5 312v2M587.5 310v2M588.5 308v2M589.5 306v2M590.5 304v2M591.5 301v3M592.5 299v2M593.5 297v2M594.5 294v3M595.5 292v2M596.5 289v3M597.5 287v2M598.5 285v2M599.5 282v3M600.5 280v2M601.5 277v3M602.5 275v2M603.5 272v3M604.5 270v2M605.5 267v3M606.5 265v2M607.5 263v2M608.5 261v2M609.5 259v2M610.5 258v1M611.5 256v2M612.5 255v1M613.5 253v2M614.5 251v2M615.5 250v1M616.5 248v2M617.5 246v2M618.5 245v1M619.5 243v2M620.5 242v1M621.5 240v2M622.5 238v2M623.5 237v1M624.5 236v1M625.5 235v1M626.5 234v1M629.5 232v1M630.5 231v1M631.5 230v1M632.5 228v2M633.5 227v1M634.5 225v2M635.5 224v1M636.5 222v2M637.5 221v1M638.5 219v2M639.5 218v1M640.5 217v1M641.5 216v1M642.5 215v1M645.5 213v1M646.5 212v1M704.5 205v1M705.5 204v1M706.5 203v1M707.5 201v2M708.5 200v1M709.5 199v1M710.5 198v1M711.5 197v1M712.5 196v1M713.5 195v1M714.5 194v1M717.5 192v1M718.5 191v1M719.5 190v1M722.5 188v1M727.5 185v1M738.5 183v1M743.5 186v1M744.5 187v1M745.5 188v1M746.5 189v1M749.5 191v1M750.5 192v1M751.5 193v1M752.5 194v2M753.5 196v1M754.5 197v2M755.5 199v1M756.5 200v2M757.5 202v1M758.5 203v2M759.5 205v1M760.5 206v1M761.5 207v2M762.5 209v1M763.5 210v1M764.5 211v1M765.5 212v2M766.5 214v1M767.5 215v1M768.5 216v2M769.5 218v1M770.5 219v2M771.5 221v1M772.5 222v2M773.5 224v1M774.5 225v2M775.5 227v1M776.5 228v2M777.5 230v2M778.5 232v2M779.5 234v1M780.5 235v2M781.5 237v2M782.5 239v2M783.5 241v1M784.5 242v2M785.5 244v2M786.5 246v2M787.5 248v1M788.5 249v2M789.5 251v2M790.5 253v2M791.5 255v2M792.5 257v2M793.5 259v2M794.5 261v3M795.5 264v2M796.5 266v3M797.5 269v2M798.5 271v2M799.5 273v3M800.5 276v3M801.5 279v4M802.5 283v3M803.5 286v3M804.5 289v3M805.5 292v4M806.5 296v3M807.5 299v3M808.5 302v4M809.5 306v4M810.5 310v4M811.5 314v4M812.5 318v4M813.5 322v4M814.5 326v4M815.5 330v2M848.5 329v1M849.5 328v1M850.5 327v1M853.5 325v1M854.5 324v1M855.5 323v1M922.5 324v1M976.5 321v1M977.5 322v2M978.5 324v1M979.5 325v1M980.5 326v1M981.5 327v2M982.5 329v1M983.5 330v1M984.5 331v1M985.5 332v2M986.5 334v1M987.5 335v1M988.5 336v1M989.5 337v2M990.5 339v1M991.5 340v1M992.5 341v1M993.5 342v2M994.5 344v1M995.5 345v1M996.5 346v1M997.5 347v2M998.5 349v1M999.5 350v1M1000.5 351v1M1001.5 352v1M1002.5 353v1M1003.5 354v1M1004.5 355v1M1005.5 356v1M1006.5 357v1M1007.5 358v1M1008.5 359v1M1009.5 360v1M1010.5 361v1M1011.5 362v2M1012.5 364v1M1013.5 365v1M1014.5 366v1M1015.5 367v1M1016.5 368v1M1017.5 369v1M1018.5 370v1M1019.5 371v2M1020.5 373v1M1021.5 374v1M1022.5 375v1M1023.5 376v1M1034.5 370v1M1039.5 365v3M1040.5 361v4M1041.5 357v4M1042.5 353v4M1043.5 348v5M1044.5 344v4M1045.5 339v5M1046.5 335v4M1047.5 330v5M1048.5 326v4M1049.5 322v4M1050.5 318v4M1051.5 314v4M1052.5 310v4M1053.5 306v4M1054.5 302v4M1055.5 298v4M1056.5 295v3M1057.5 293v2M1058.5 290v3M1059.5 288v2M1060.5 286v2M1061.5 283v3M1062.5 281v2M1063.5 278v3M1064.5 276v2M1065.5 273v3M1066.5 271v2M1067.5 268v3M1068.5 266v2M1069.5 263v3M1070.5 261v2M1071.5 258v3M1072.5 256v2M1073.5 253v3M1074.5 251v2M1075.5 248v3M1076.5 246v2M1077.5 243v3M1078.5 241v2M1079.5 238v3M1080.5 236v2M1081.5 233v3M1082.5 231v2M1083.5 228v3M1084.5 226v2M1085.5 223v3M1086.5 221v2M1087.5 218v3M1088.5 216v2M1089.5 214v2M1090.5 212v2M1091.5 210v2M1092.5 208v2M1093.5 206v2M1094.5 204v2M1095.5 202v2M1096.5 200v2M1097.5 198v2M1098.5 196v2M1099.5 194v2M1100.5 192v2M1101.5 190v2M1102.5 188v2M1103.5 187v1M1104.5 186v1M1105.5 184v2M1106.5 183v1M1107.5 182v1M1108.5 181v1M1109.5 179v2M1110.5 178v1M1111.5 177v1M1112.5 176v1M1113.5 175v1M1114.5 174v1M1115.5 172v2M1116.5 171v1M1117.5 170v1M1118.5 169v1M1119.5 168v1M1120.5 167v1M1121.5 166v1M1122.5 165v1M1123.5 164v1M1124.5 163v1M1125.5 162v1M1126.5 161v1M1127.5 160v1M1128.5 159v1M1129.5 158v1M1130.5 157v1M1131.5 156v1M1132.5 155v1M1133.5 154v1M1134.5 153v1M1192.5 149v1M1193.5 150v1M1194.5 151v1M1197.5 153v1M1198.5 154v1M1199.5 155v1M1200.5 154v1M1201.5 152v2M1202.5 151v1M1203.5 150v1M1204.5 149v1M1205.5 147v2M1206.5 146v1M1207.5 145v1M1208.5 143v2M1209.5 142v1M1210.5 140v2M1211.5 139v1M1212.5 137v2M1213.5 136v1M1214.5 134v2M1215.5 133v1M1216.5 132v1M1217.5 131v1M1218.5 130v1M1221.5 128v1M1222.5 127v1M1223.5 126v1M1312.5 112v1M1313.5 111v1M1314.5 110v1M1315.5 109v1M1316.5 108v1M1317.5 107v1M1318.5 106v1M1319.5 105v1M1320.5 103v2M1321.5 102v1M1322.5 100v2M1323.5 99v1M1324.5 97v2M1325.5 96v1M1326.5 94v2M1327.5 93v1M1328.5 92v1M1329.5 91v1M1330.5 90v1M1333.5 88v1M1334.5 87v1M1335.5 86v1M1336.5 85v1M1339.5 83v1M1340.5 82v1M1343.5 80v1" stroke="#2eaa66" stroke-width="1" fill="none"/>
<path d="M1341 150.5h3M1337 151.5h4M1334 152.5h3M1332 153.5h2M1330 154.5h2M1328 155.5h2M1325 157.5h2M1323 158.5h2M1320 160.5h2M1317 162.5h2M1313 165.5h2M1309 168.5h2M1307 169.5h2M1304 171.5h2M1301 173.5h2M1299 174.5h2M1296 176.5h2M1293 178.5h2M1291 179.5h2M1288 181.5h2M1286 182.5h2M1284 183.5h2M1282 184.5h2M1280 185.5h2M1277 186.5h3M1273 187.5h4M1270 188.5h3M1267 189.5h3M1265 190.5h2M1262 191.5h3M1259 192.5h3M1257 193.5h2M1254 194.5h3M1252 195.5h2M1250 196.5h2M1248 197.5h2M1246 198.5h2M1243 199.5h3M1241 200.5h2M1238 201.5h3M1235 202.5h3M1233 203.5h2M1230 204.5h3M1228 205.5h2M1226 206.5h2M1224 207.5h2M1211 219.5h2M683 317.5h8M675 318.5h8M691 318.5h8M659 319.5h16M699 319.5h5M655 320.5h4M704 320.5h2M653 321.5h2M706 321.5h2M708 322.5h2M710 323.5h2M649 324.5h2M712 324.5h2M714 325.5h2M716 326.5h2M645 327.5h2M718 327.5h2M720 328.5h2M722 329.5h2M641 330.5h2M724 330.5h2M726 331.5h2M637 333.5h2M729 333.5h2M633 336.5h2M733 336.5h2M737 339.5h2M741 342.5h2M745 345.5h2M749 348.5h2M619 349.5h2M752 350.5h2M755 352.5h2M757 353.5h2M760 355.5h2M762 356.5h2M764 357.5h2M766 358.5h2M769 360.5h2M605 362.5h2M773 363.5h2M601 365.5h2M779 368.5h2M595 370.5h2M587 377.5h2M94 381.5h5M91 382.5h3M99 382.5h16M581 382.5h2M89 383.5h2M115 383.5h8M87 384.5h2M123 384.5h6M129 385.5h2M577 385.5h2M131 386.5h3M83 387.5h2M134 387.5h3M574 387.5h2M137 388.5h2M571 388.5h3M139 389.5h3M569 389.5h2M883 389.5h16M142 390.5h3M565 390.5h4M878 390.5h5M899 390.5h6M145 391.5h2M561 391.5h4M875 391.5h3M905 391.5h4M147 392.5h3M555 392.5h6M873 392.5h2M909 392.5h3M150 393.5h3M547 393.5h8M870 393.5h3M912 393.5h2M153 394.5h4M531 394.5h16M868 394.5h2M914 394.5h2M157 395.5h3M525 395.5h6M866 395.5h2M916 395.5h2M521 396.5h4M864 396.5h2M918 396.5h2M517 397.5h4M862 397.5h2M920 397.5h2M513 398.5h4M860 398.5h2M922 398.5h2M163 399.5h2M510 399.5h3M858 399.5h2M924 399.5h2M507 400.5h3M856 400.5h2M926 400.5h2M505 401.5h2M854 401.5h2M928 401.5h2M501 402.5h4M811 402.5h2M851 402.5h3M497 403.5h4M849 403.5h2M931 403.5h2M494 404.5h3M843 404.5h6M933 404.5h2M492 405.5h2M815 405.5h28M490 406.5h2M936 406.5h2M487 407.5h3M938 407.5h2M485 408.5h2M940 408.5h2M483 409.5h2M942 409.5h3M481 410.5h2M945 410.5h2M479 411.5h2M947 411.5h3M477 412.5h2M950 412.5h3M953 413.5h4M957 414.5h6M473 415.5h2M963 415.5h13M1059 415.5h2M976 416.5h2M978 417.5h2M469 418.5h2M980 418.5h2M982 419.5h2M984 420.5h2M465 421.5h2M986 421.5h2M988 422.5h2M990 423.5h3M461 424.5h2M993 424.5h2M995 425.5h3M998 426.5h3M457 427.5h2M1001 427.5h2M1003 428.5h3M1006 429.5h2M453 430.5h2M1008 430.5h2M1043 430.5h2M1010 431.5h2M1012 432.5h2M449 433.5h2M1014 433.5h3M1017 434.5h2M1035 434.5h5M1019 435.5h3M1027 435.5h8M445 436.5h2M1022 436.5h5M442 438.5h2M439 440.5h2M435 443.5h2M432 445.5h2M209 446.5h2M429 447.5h2M213 449.5h2M425 450.5h2M217 452.5h2M421 453.5h2M221 455.5h2M417 456.5h2M225 458.5h2M414 458.5h2M412 459.5h2M410 460.5h2M229 461.5h2M408 461.5h2M405 463.5h2M233 464.5h2M401 466.5h2M237 467.5h2M240 469.5h2M242 470.5h2M244 471.5h2M395 471.5h2M246 472.5h2M248 473.5h2M250 474.5h2M252 475.5h2M254 476.5h2M389 476.5h2M256 477.5h2M387 477.5h2M258 478.5h2M260 479.5h2M384 479.5h2M262 480.5h2M382 480.5h2M264 481.5h2M379 481.5h3M377 482.5h2M267 483.5h2M374 483.5h3M269 484.5h2M372 484.5h2M370 485.5h2M272 486.5h2M368 486.5h2M274 487.5h2M366 487.5h2M276 488.5h2M363 488.5h3M278 489.5h2M361 489.5h2M280 490.5h2M358 490.5h3M282 491.5h2M356 491.5h2M284 492.5h2M354 492.5h2M286 493.5h3M352 493.5h2M289 494.5h2M350 494.5h2M291 495.5h3M348 495.5h2M294 496.5h2M346 496.5h2M296 497.5h2M344 497.5h2M298 498.5h2M342 498.5h2M300 499.5h2M340 499.5h2M302 500.5h3M338 500.5h2M305 501.5h2M336 501.5h2M307 502.5h3M334 502.5h2M310 503.5h2M332 503.5h2M312 504.5h2M330 504.5h2M328 505.5h2M315 506.5h2M325 506.5h3M317 507.5h2M321 507.5h4M319 508.5h2M0.5 493v1M1.5 492v1M2.5 491v1M3.5 490v1M4.5 488v2M5.5 487v1M6.5 486v1M7.5 485v1M8.5 484v1M9.5 482v2M10.5 481v1M11.5 480v1M12.5 479v1M13.5 477v2M14.5 476v1M15.5 475v1M16.5 474v1M17.5 472v2M18.5 471v1M19.5 470v1M20.5 469v1M21.5 467v2M22.5 466v1M23.5 465v1M24.5 464v1M25.5 462v2M26.5 461v1M27.5 460v1M28.5 459v1M29.5 457v2M30.5 456v1M31.5 455v1M32.5 453v2M33.5 452v1M34.5 451v1M35.5 449v2M36.5 448v1M37.5 447v1M38.5 445v2M39.5 444v1M40.5 442v2M41.5 441v1M42.5 439v2M43.5 438v1M44.5 436v2M45.5 435v1M46.5 433v2M47.5 432v1M48.5 430v2M49.5 429v1M50.5 427v2M51.5 426v1M52.5 424v2M53.5 423v1M54.5 421v2M55.5 420v1M56.5 418v2M57.5 417v1M58.5 416v1M59.5 414v2M60.5 413v1M61.5 412v1M62.5 410v2M63.5 409v1M64.5 408v1M65.5 407v1M66.5 406v1M67.5 404v2M68.5 403v1M69.5 402v1M70.5 401v1M71.5 400v1M72.5 399v1M73.5 398v1M74.5 397v1M75.5 395v2M76.5 394v1M77.5 393v1M78.5 392v1M79.5 391v1M80.5 390v1M81.5 389v1M82.5 388v1M85.5 386v1M86.5 385v1M160.5 396v1M161.5 397v1M162.5 398v1M165.5 400v1M166.5 401v1M167.5 402v1M168.5 403v1M169.5 404v1M170.5 405v1M171.5 406v1M172.5 407v1M173.5 408v1M174.5 409v1M175.5 410v1M176.5 411v1M177.5 412v1M178.5 413v1M179.5 414v1M180.5 415v1M181.5 416v1M182.5 417v1M183.5 418v1M184.5 419v1M185.5 420v1M186.5 421v1M187.5 422v1M188.5 423v1M189.5 424v1M190.5 425v1M191.5 426v1M192.5 427v1M193.5 428v1M194.5 429v1M195.5 430v2M196.5 432v1M197.5 433v1M198.5 434v1M199.5 435v1M200.5 436v1M201.5 437v1M202.5 438v1M203.5 439v2M204.5 441v1M205.5 442v1M206.5 443v1M207.5 444v1M208.5 445v1M211.5 447v1M212.5 448v1M215.5 450v1M216.5 451v1M219.5 453v1M220.5 454v1M223.5 456v1M224.5 457v1M227.5 459v1M228.5 460v1M231.5 462v1M232.5 463v1M235.5 465v1M236.5 466v1M239.5 468v1M266.5 482v1M271.5 485v1M314.5 505v1M386.5 478v1M391.5 475v1M392.5 474v1M393.5 473v1M394.5 472v1M397.5 470v1M398.5 469v1M399.5 468v1M400.5 467v1M403.5 465v1M404.5 464v1M407.5 462v1M416.5 457v1M419.5 455v1M420.5 454v1M423.5 452v1M424.5 451v1M427.5 449v1M428.5 448v1M431.5 446v1M434.5 444v1M437.5 442v1M438.5 441v1M441.5 439v1M444.5 437v1M447.5 435v1M448.5 434v1M451.5 432v1M452.5 431v1M455.5 429v1M456.5 428v1M459.5 426v1M460.5 425v1M463.5 423v1M464.5 422v1M467.5 420v1M468.5 419v1M471.5 417v1M472.5 416v1M475.5 414v1M476.5 413v1M576.5 386v1M579.5 384v1M580.5 383v1M583.5 381v1M584.5 380v1M585.5 379v1M586.5 378v1M589.5 376v1M590.5 375v1M591.5 374v1M592.5 373v1M593.5 372v1M594.5 371v1M597.5 369v1M598.5 368v1M599.5 367v1M600.5 366v1M603.5 364v1M604.5 363v1M607.5 361v1M608.5 360v1M609.5 359v1M610.5 358v1M611.5 357v1M612.5 356v1M613.5 355v1M614.5 354v1M615.5 353v1M616.5 352v1M617.5 351v1M618.5 350v1M621.5 348v1M622.5 347v1M623.5 346v1M624.5 345v1M625.5 344v1M626.5 343v1M627.5 342v1M628.5 341v1M629.5 340v1M630.5 339v1M631.5 338v1M632.5 337v1M635.5 335v1M636.5 334v1M639.5 332v1M640.5 331v1M643.5 329v1M644.5 328v1M647.5 326v1M648.5 325v1M651.5 323v1M652.5 322v1M728.5 332v1M731.5 334v1M732.5 335v1M735.5 337v1M736.5 338v1M739.5 340v1M740.5 341v1M743.5 343v1M744.5 344v1M747.5 346v1M748.5 347v1M751.5 349v1M754.5 351v1M759.5 354v1M768.5 359v1M771.5 361v1M772.5 362v1M775.5 364v1M776.5 365v1M777.5 366v1M778.5 367v1M781.5 369v1M782.5 370v1M783.5 371v1M784.5 372v1M785.5 373v2M786.5 375v1M787.5 376v1M788.5 377v1M789.5 378v2M790.5 380v1M791.5 381v1M792.5 382v1M793.5 383v1M794.5 384v1M795.5 385v1M796.5 386v2M797.5 388v1M798.5 389v1M799.5 390v1M800.5 391v1M801.5 392v1M802.5 393v1M803.5 394v1M804.5 395v1M805.5 396v1M806.5 397v1M807.5 398v1M808.5 399v1M809.5 400v1M810.5 401v1M813.5 403v1M814.5 404v1M930.5 402v1M935.5 405v1M1040.5 433v1M1041.5 432v1M1042.5 431v1M1045.5 429v1M1046.5 428v1M1047.5 427v1M1048.5 426v1M1049.5 425v1M1050.5 424v1M1051.5 423v1M1052.5 422v1M1053.5 421v1M1054.5 420v1M1055.5 419v1M1056.5 418v1M1057.5 417v1M1058.5 416v1M1061.5 414v1M1062.5 413v1M1063.5 412v1M1064.5 411v1M1065.5 410v1M1066.5 409v1M1067.5 407v2M1068.5 406v1M1069.5 405v1M1070.5 404v1M1071.5 403v1M1072.5 402v1M1073.5 400v2M1074.5 399v1M1075.5 398v1M1076.5 397v1M1077.5 395v2M1078.5 394v1M1079.5 393v1M1080.5 392v1M1081.5 390v2M1082.5 389v1M1083.5 388v1M1084.5 387v1M1085.5 385v2M1086.5 384v1M1087.5 383v1M1088.5 381v2M1089.5 380v1M1090.5 379v1M1091.5 377v2M1092.5 376v1M1093.5 375v1M1094.5 373v2M1095.5 372v1M1096.5 370v2M1097.5 369v1M1098.5 367v2M1099.5 366v1M1100.5 364v2M1101.5 363v1M1102.5 361v2M1103.5 360v1M1104.5 358v2M1105.5 357v1M1106.5 355v2M1107.5 354v1M1108.5 352v2M1109.5 351v1M1110.5 349v2M1111.5 348v1M1112.5 346v2M1113.5 345v1M1114.5 344v1M1115.5 342v2M1116.5 341v1M1117.5 340v1M1118.5 338v2M1119.5 337v1M1120.5 335v2M1121.5 334v1M1122.5 333v1M1123.5 331v2M1124.5 330v1M1125.5 329v1M1126.5 327v2M1127.5 326v1M1128.5 324v2M1129.5 323v1M1130.5 322v1M1131.5 320v2M1132.5 319v1M1133.5 318v1M1134.5 316v2M1135.5 315v1M1136.5 314v1M1137.5 313v1M1138.5 312v1M1139.5 310v2M1140.5 309v1M1141.5 308v1M1142.5 307v1M1143.5 306v1M1144.5 305v1M1145.5 304v1M1146.5 303v1M1147.5 302v1M1148.5 301v1M1149.5 300v1M1150.5 298v2M1151.5 297v1M1152.5 296v1M1153.5 294v2M1154.5 293v1M1155.5 292v1M1156.5 290v2M1157.5 289v1M1158.5 287v2M1159.5 286v1M1160.5 284v2M1161.5 283v1M1162.5 281v2M1163.5 280v1M1164.5 278v2M1165.5 277v1M1166.5 275v2M1167.5 274v1M1168.5 272v2M1169.5 271v1M1170.5 269v2M1171.5 268v1M1172.5 266v2M1173.5 265v1M1174.5 263v2M1175.5 262v1M1176.5 260v2M1177.5 259v1M1178.5 258v1M1179.5 256v2M1180.5 255v1M1181.5 254v1M1182.5 252v2M1183.5 251v1M1184.5 250v1M1185.5 248v2M1186.5 247v1M1187.5 246v1M1188.5 245v1M1189.5 243v2M1190.5 242v1M1191.5 241v1M1192.5 240v1M1193.5 239v1M1194.5 238v1M1195.5 236v2M1196.5 235v1M1197.5 234v1M1198.5 233v1M1199.5 232v1M1200.5 231v1M1201.5 230v1M1202.5 229v1M1203.5 227v2M1204.5 226v1M1205.5 225v1M1206.5 224v1M1207.5 223v1M1208.5 222v1M1209.5 221v1M1210.5 220v1M1213.5 218v1M1214.5 217v1M1215.5 216v1M1216.5 215v1M1217.5 214v1M1218.5 213v1M1219.5 212v1M1220.5 211v1M1221.5 210v1M1222.5 209v1M1223.5 208v1M1290.5 180v1M1295.5 177v1M1298.5 175v1M1303.5 172v1M1306.5 170v1M1311.5 167v1M1312.5 166v1M1315.5 164v1M1316.5 163v1M1319.5 161v1M1322.5 159v1M1327.5 156v1" stroke="#2eaa66" stroke-width="1" fill="none"/>
<path d="M1319 216.5h2M1317 217.5h2M1321 217.5h2M1315 218.5h2M1323 218.5h3M1326 219.5h5M1339 219.5h5M1312 220.5h2M1331 220.5h8M1299 234.5h2M1293 239.5h2M1289 242.5h2M1283 247.5h2M1275 254.5h2M1262 266.5h2M1259 267.5h3M1257 268.5h2M1255 269.5h2M1253 270.5h2M1251 271.5h2M1248 273.5h2M1245 275.5h2M1243 276.5h2M1240 278.5h2M1235 282.5h2M1222 297.5h2M1220 298.5h2M1218 299.5h2M1216 300.5h2M1211 301.5h5M1203 302.5h8M1199 303.5h4M685 423.5h2M688 423.5h2M683 424.5h2M691 425.5h2M680 426.5h2M693 426.5h2M534 427.5h13M678 427.5h2M532 428.5h2M547 428.5h8M675 428.5h3M530 429.5h2M555 429.5h6M673 429.5h2M528 430.5h2M561 430.5h4M669 430.5h4M565 431.5h4M665 431.5h4M699 431.5h2M525 432.5h2M569 432.5h4M655 432.5h10M523 433.5h2M573 433.5h3M520 435.5h2M518 436.5h2M516 437.5h2M514 438.5h2M512 439.5h2M495 440.5h2M509 440.5h3M493 441.5h2M497 441.5h4M505 441.5h4M491 442.5h2M501 442.5h4M488 444.5h2M483 448.5h2M638 449.5h2M93 450.5h4M635 450.5h3M91 451.5h2M97 451.5h2M633 451.5h2M99 452.5h3M107 452.5h6M631 452.5h2M102 453.5h5M113 453.5h4M629 453.5h2M117 454.5h3M627 454.5h2M120 455.5h2M122 456.5h2M624 456.5h2M124 457.5h2M622 457.5h2M891 457.5h6M126 458.5h2M620 458.5h2M883 458.5h8M897 458.5h2M618 459.5h2M879 459.5h4M899 459.5h3M616 460.5h2M902 460.5h3M905 461.5h2M600 462.5h2M613 462.5h2M907 462.5h3M611 463.5h2M910 463.5h2M603 464.5h2M912 464.5h2M605 465.5h2M608 465.5h2M914 465.5h2M916 466.5h2M918 467.5h2M921 469.5h2M867 470.5h2M925 472.5h2M861 475.5h2M859 476.5h2M856 478.5h2M815 479.5h12M851 479.5h5M827 480.5h24M145 483.5h2M149 486.5h2M153 489.5h2M157 492.5h2M1023 496.5h4M1021 497.5h2M1027 497.5h5M1019 498.5h2M1032 498.5h2M1034 499.5h2M945 500.5h2M1016 500.5h2M1036 500.5h2M1014 501.5h2M1038 501.5h2M798 502.5h2M1011 502.5h3M779 503.5h6M796 503.5h2M949 503.5h2M1009 503.5h2M745 504.5h2M773 504.5h6M785 504.5h2M794 504.5h2M1006 504.5h3M769 505.5h4M787 505.5h3M792 505.5h2M952 505.5h2M1003 505.5h3M765 506.5h4M790 506.5h2M954 506.5h2M1001 506.5h2M749 507.5h2M761 507.5h4M956 507.5h2M995 507.5h6M751 508.5h10M958 508.5h5M987 508.5h8M963 509.5h8M979 509.5h8M971 510.5h8M285 530.5h3M255 531.5h4M281 531.5h4M288 531.5h2M253 532.5h2M259 532.5h6M278 532.5h3M265 533.5h2M275 533.5h3M291 533.5h2M267 534.5h3M273 534.5h2M293 534.5h2M249 535.5h2M270 535.5h3M246 537.5h2M297 537.5h2M244 538.5h2M1059 538.5h2M242 539.5h2M222 540.5h13M240 540.5h2M301 540.5h2M192 541.5h2M219 541.5h3M235 541.5h5M303 541.5h2M1063 541.5h2M217 542.5h2M305 542.5h4M1065 542.5h2M195 543.5h2M211 543.5h6M309 543.5h11M1067 543.5h3M197 544.5h2M203 544.5h8M320 544.5h2M1070 544.5h2M199 545.5h4M322 545.5h2M1072 545.5h2M324 546.5h2M326 547.5h2M1075 547.5h2M328 548.5h2M1077 548.5h2M1079 549.5h4M331 550.5h2M1083 550.5h5M333 551.5h2M435 554.5h2M343 560.5h2M345 561.5h2M347 562.5h3M350 563.5h3M353 564.5h4M357 565.5h4M361 566.5h4M365 567.5h4M422 567.5h2M369 568.5h4M420 568.5h2M373 569.5h4M418 569.5h2M377 570.5h4M416 570.5h2M381 571.5h4M413 571.5h3M385 572.5h2M409 572.5h4M387 573.5h3M406 573.5h3M390 574.5h3M403 574.5h3M393 575.5h4M401 575.5h2M397 576.5h4M54.5 577v2M55.5 573v4M56.5 569v4M57.5 565v4M58.5 561v4M59.5 557v4M60.5 553v4M61.5 549v4M62.5 545v4M63.5 542v3M64.5 538v4M65.5 534v4M66.5 530v4M67.5 527v3M68.5 523v4M69.5 519v4M70.5 515v4M71.5 512v3M72.5 508v4M73.5 504v4M74.5 500v4M75.5 497v3M76.5 493v4M77.5 489v4M78.5 485v4M79.5 482v3M80.5 478v4M81.5 475v3M82.5 471v4M83.5 468v3M84.5 464v4M85.5 461v3M86.5 457v4M87.5 455v2M88.5 454v1M89.5 453v1M90.5 452v1M128.5 459v1M129.5 460v2M130.5 462v1M131.5 463v1M132.5 464v1M133.5 465v2M134.5 467v1M135.5 468v1M136.5 469v2M137.5 471v2M138.5 473v1M139.5 474v2M140.5 476v1M141.5 477v2M142.5 479v2M143.5 481v1M144.5 482v1M147.5 484v1M148.5 485v1M151.5 487v1M152.5 488v1M155.5 490v1M156.5 491v1M159.5 493v1M160.5 494v2M161.5 496v2M162.5 498v2M163.5 500v1M164.5 501v2M165.5 503v2M166.5 505v2M167.5 507v1M168.5 508v2M169.5 510v2M170.5 512v2M171.5 514v1M172.5 515v2M173.5 517v2M174.5 519v2M175.5 521v1M176.5 522v2M177.5 524v1M178.5 525v1M179.5 526v2M180.5 528v1M181.5 529v1M182.5 530v2M183.5 532v1M184.5 533v1M185.5 534v1M186.5 535v1M187.5 536v1M188.5 537v1M189.5 538v1M190.5 539v1M191.5 540v1M194.5 542v1M248.5 536v1M251.5 534v1M252.5 533v1M290.5 532v1M295.5 535v1M296.5 536v1M299.5 538v1M300.5 539v1M330.5 549v1M335.5 552v1M336.5 553v1M337.5 554v1M338.5 555v1M339.5 556v1M340.5 557v1M341.5 558v1M342.5 559v1M424.5 566v1M425.5 565v1M426.5 564v1M427.5 562v2M428.5 561v1M429.5 560v1M430.5 559v1M431.5 558v1M432.5 557v1M433.5 556v1M434.5 555v1M437.5 553v1M438.5 552v1M439.5 551v1M440.5 550v1M441.5 548v2M442.5 547v1M443.5 546v1M444.5 545v1M445.5 543v2M446.5 542v1M447.5 541v1M448.5 539v2M449.5 537v2M450.5 535v2M451.5 533v2M452.5 531v2M453.5 529v2M454.5 527v2M455.5 525v2M456.5 523v2M457.5 520v3M458.5 518v2M459.5 515v3M460.5 513v2M461.5 510v3M462.5 508v2M463.5 505v3M464.5 502v3M465.5 499v3M466.5 496v3M467.5 494v2M468.5 491v3M469.5 488v3M470.5 485v3M471.5 481v4M472.5 476v5M473.5 471v5M474.5 466v5M475.5 462v4M476.5 459v3M477.5 457v2M478.5 454v3M479.5 452v2M480.5 451v1M481.5 450v1M482.5 449v1M485.5 447v1M486.5 446v1M487.5 445v1M490.5 443v1M522.5 434v1M527.5 431v1M576.5 434v2M577.5 436v1M578.5 437v1M579.5 438v2M580.5 440v1M581.5 441v1M582.5 442v2M583.5 444v1M584.5 445v1M585.5 446v1M586.5 447v1M587.5 448v2M588.5 450v1M589.5 451v1M590.5 452v1M591.5 453v1M592.5 454v1M593.5 455v1M594.5 456v1M595.5 457v1M596.5 458v1M597.5 459v1M598.5 460v1M599.5 461v1M602.5 463v1M607.5 466v1M610.5 464v1M615.5 461v1M626.5 455v1M640.5 448v1M641.5 447v1M642.5 446v1M643.5 445v1M644.5 444v1M645.5 443v1M646.5 442v1M647.5 441v1M648.5 440v1M649.5 439v1M650.5 438v1M651.5 436v2M652.5 435v1M653.5 434v1M654.5 433v1M682.5 425v1M687.5 422v1M690.5 424v1M695.5 427v1M696.5 428v1M697.5 429v1M698.5 430v1M701.5 432v1M702.5 433v1M703.5 434v1M704.5 435v2M705.5 437v2M706.5 439v2M707.5 441v1M708.5 442v2M709.5 444v2M710.5 446v2M711.5 448v1M712.5 449v2M713.5 451v2M714.5 453v2M715.5 455v2M716.5 457v2M717.5 459v2M718.5 461v2M719.5 463v2M720.5 465v2M721.5 467v2M722.5 469v2M723.5 471v2M724.5 473v2M725.5 475v2M726.5 477v2M727.5 479v2M728.5 481v2M729.5 483v2M730.5 485v1M731.5 486v2M732.5 488v1M733.5 489v2M734.5 491v2M735.5 493v1M736.5 494v1M737.5 495v1M738.5 496v1M739.5 497v2M740.5 499v1M741.5 500v1M742.5 501v1M743.5 502v1M744.5 503v1M747.5 505v1M748.5 506v1M800.5 501v1M801.5 500v1M802.5 498v2M803.5 497v1M804.5 496v1M805.5 494v2M806.5 493v1M807.5 492v1M808.5 490v2M809.5 488v2M810.5 487v1M811.5 485v2M812.5 484v1M813.5 482v2M814.5 480v2M858.5 477v1M863.5 474v1M864.5 473v1M865.5 472v1M866.5 471v1M869.5 469v1M870.5 468v1M871.5 467v1M872.5 466v1M873.5 465v1M874.5 464v1M875.5 463v1M876.5 462v1M877.5 461v1M878.5 460v1M920.5 468v1M923.5 470v1M924.5 471v1M927.5 473v1M928.5 474v2M929.5 476v2M930.5 478v1M931.5 479v2M932.5 481v1M933.5 482v2M934.5 484v2M935.5 486v1M936.5 487v2M937.5 489v1M938.5 490v2M939.5 492v1M940.5 493v2M941.5 495v1M942.5 496v2M943.5 498v1M944.5 499v1M947.5 501v1M948.5 502v1M951.5 504v1M1018.5 499v1M1039.5 502v1M1040.5 503v2M1041.5 505v3M1042.5 508v2M1043.5 510v3M1044.5 513v2M1045.5 515v3M1046.5 518v2M1047.5 520v2M1048.5 522v2M1049.5 524v2M1050.5 526v1M1051.5 527v2M1052.5 529v1M1053.5 530v2M1054.5 532v2M1055.5 534v1M1056.5 535v1M1057.5 536v1M1058.5 537v1M1061.5 539v1M1062.5 540v1M1074.5 546v1M1088.5 549v1M1089.5 547v2M1090.5 546v1M1091.5 545v1M1092.5 544v1M1093.5 542v2M1094.5 541v1M1095.5 540v1M1096.5 538v2M1097.5 536v2M1098.5 534v2M1099.5 532v2M1100.5 530v2M1101.5 528v2M1102.5 527v1M1103.5 525v2M1104.5 523v2M1105.5 521v2M1106.5 519v2M1107.5 517v2M1108.5 515v2M1109.5 513v2M1110.5 512v1M1111.5 510v2M1112.5 508v2M1113.5 506v2M1114.5 505v1M1115.5 503v2M1116.5 501v2M1117.5 499v2M1118.5 498v1M1119.5 496v2M1120.5 495v1M1121.5 494v1M1122.5 492v2M1123.5 491v1M1124.5 490v1M1125.5 488v2M1126.5 487v1M1127.5 485v2M1128.5 484v1M1129.5 483v1M1130.5 481v2M1131.5 480v1M1132.5 479v1M1133.5 477v2M1134.5 476v1M1135.5 474v2M1136.5 472v2M1137.5 470v2M1138.5 469v1M1139.5 467v2M1140.5 465v2M1141.5 463v2M1142.5 462v1M1143.5 460v2M1144.5 458v2M1145.5 456v2M1146.5 454v2M1147.5 452v2M1148.5 450v2M1149.5 448v2M1150.5 445v3M1151.5 443v2M1152.5 441v2M1153.5 438v3M1154.5 436v2M1155.5 433v3M1156.5 431v2M1157.5 429v2M1158.5 426v3M1159.5 423v3M1160.5 420v3M1161.5 417v3M1162.5 413v4M1163.5 410v3M1164.5 407v3M1165.5 404v3M1166.5 401v3M1167.5 397v4M1168.5 394v3M1169.5 391v3M1170.5 387v4M1171.5 384v3M1172.5 381v3M1173.5 377v4M1174.5 374v3M1175.5 371v3M1176.5 367v4M1177.5 364v3M1178.5 361v3M1179.5 358v3M1180.5 354v4M1181.5 351v3M1182.5 348v3M1183.5 346v2M1184.5 344v2M1185.5 341v3M1186.5 339v2M1187.5 336v3M1188.5 334v2M1189.5 332v2M1190.5 329v3M1191.5 325v4M1192.5 321v4M1193.5 317v4M1194.5 313v4M1195.5 311v2M1196.5 309v2M1197.5 307v2M1198.5 305v2M1199.5 304v1M1224.5 296v1M1225.5 294v2M1226.5 293v1M1227.5 292v1M1228.5 290v2M1229.5 289v1M1230.5 287v2M1231.5 286v1M1232.5 285v1M1233.5 284v1M1234.5 283v1M1237.5 281v1M1238.5 280v1M1239.5 279v1M1242.5 277v1M1247.5 274v1M1250.5 272v1M1264.5 265v1M1265.5 264v1M1266.5 263v1M1267.5 262v1M1268.5 261v1M1269.5 260v1M1270.5 259v1M1271.5 258v1M1272.5 257v1M1273.5 256v1M1274.5 255v1M1277.5 253v1M1278.5 252v1M1279.5 251v1M1280.5 250v1M1281.5 249v1M1282.5 248v1M1285.5 246v1M1286.5 245v1M1287.5 244v1M1288.5 243v1M1291.5 241v1M1292.5 240v1M1295.5 238v1M1296.5 237v1M1297.5 236v1M1298.5 235v1M1301.5 233v1M1302.5 232v1M1303.5 231v1M1304.5 230v1M1305.5 228v2M1306.5 227v1M1307.5 226v1M1308.5 225v1M1309.5 223v2M1310.5 222v1M1311.5 221v1M1314.5 219v1" stroke="#2eaa66" stroke-width="1" fill="none"/>
</g>
<g shape-rendering="crispEdges">
<rect x="223" y="58" width="1395" height="2" fill="#ff0000"/>
<rect x="1612" y="56" width="6" height="6" fill="#ff0000"/><rect x="1614" y="58" width="2" height="2" fill="#fff"/>
<rect x="223" y="80" width="1395" height="2" fill="#ff0000"/>
<rect x="1612" y="78" width="6" height="6" fill="#ff0000"/><rect x="1614" y="80" width="2" height="2" fill="#fff"/>
<rect x="223" y="97" width="1395" height="2" fill="#32cd32"/>
<rect x="1612" y="95" width="6" height="6" fill="#32cd32"/><rect x="1614" y="97" width="2" height="2" fill="#fff"/>
<rect x="0" y="128" width="1618" height="2" fill="#0000ff"/>
<rect x="1612" y="126" width="6" height="6" fill="#0000ff"/><rect x="1614" y="128" width="2" height="2" fill="#fff"/>
<rect x="0" y="150" width="1618" height="2" fill="#0000ff"/>
<rect x="1612" y="148" width="6" height="6" fill="#0000ff"/><rect x="1614" y="150" width="2" height="2" fill="#fff"/>
<rect x="0" y="126" width="4" height="6" fill="#0000ff"/><rect x="0" y="128" width="2" height="2" fill="#fff"/>
<rect x="0" y="148" width="4" height="6" fill="#0000ff"/><rect x="0" y="150" width="2" height="2" fill="#fff"/>
<rect x="7" y="341" width="1" height="64" fill="#000"/>
<rect x="5" y="355" width="5" height="35" fill="#000"/>
<rect x="6" y="356" width="3" height="33" fill="#fff"/>
<rect x="15" y="338" width="1" height="21" fill="#000"/>
<rect x="13" y="345" width="5" height="6" fill="#000"/>
<rect x="14" y="346" width="3" height="4" fill="#fff"/>
<rect x="23" y="314" width="1" height="53" fill="#000"/>
<rect x="21" y="315" width="5" height="31" fill="#000"/>
<rect x="31" y="337" width="1" height="17" fill="#000"/>
<rect x="29" y="346" width="5" height="4" fill="#000"/>
<rect x="39" y="329" width="1" height="20" fill="#000"/>
<rect x="37" y="333" width="5" height="5" fill="#000"/>
<rect x="38" y="334" width="3" height="3" fill="#fff"/>
<rect x="47" y="306" width="1" height="28" fill="#000"/>
<rect x="45" y="317" width="5" height="15" fill="#000"/>
<rect x="46" y="318" width="3" height="13" fill="#fff"/>
<rect x="55" y="331" width="1" height="35" fill="#000"/>
<rect x="53" y="334" width="5" height="16" fill="#000"/>
<rect x="63" y="344" width="1" height="16" fill="#000"/>
<rect x="61" y="350" width="5" height="4" fill="#000"/>
<rect x="71" y="355" width="1" height="28" fill="#000"/>
<rect x="69" y="355" width="5" height="24" fill="#000"/>
<rect x="79" y="379" width="1" height="26" fill="#000"/>
<rect x="77" y="379" width="5" height="17" fill="#000"/>
<rect x="87" y="372" width="1" height="21" fill="#000"/>
<rect x="85" y="384" width="5" height="3" fill="#000"/>
<rect x="95" y="384" width="1" height="15" fill="#000"/>
<rect x="93" y="386" width="5" height="12" fill="#000"/>
<rect x="103" y="382" width="1" height="60" fill="#000"/>
<rect x="101" y="393" width="5" height="49" fill="#000"/>
<rect x="111" y="428" width="1" height="23" fill="#000"/>
<rect x="109" y="431" width="5" height="9" fill="#000"/>
<rect x="110" y="432" width="3" height="7" fill="#fff"/>
<rect x="119" y="415" width="1" height="19" fill="#000"/>
<rect x="117" y="423" width="5" height="7" fill="#000"/>
<rect x="127" y="424" width="1" height="19" fill="#000"/>
<rect x="125" y="429" width="5" height="11" fill="#000"/>
<rect x="135" y="426" width="1" height="46" fill="#000"/>
<rect x="133" y="443" width="5" height="25" fill="#000"/>
<rect x="143" y="450" width="1" height="32" fill="#000"/>
<rect x="141" y="467" width="5" height="14" fill="#000"/>
<rect x="151" y="439" width="1" height="29" fill="#000"/>
<rect x="149" y="453" width="5" height="2" fill="#000"/>
<rect x="159" y="450" width="1" height="13" fill="#000"/>
<rect x="157" y="452" width="5" height="7" fill="#000"/>
<rect x="167" y="465" width="1" height="44" fill="#000"/>
<rect x="165" y="480" width="5" height="13" fill="#000"/>
<rect x="175" y="490" width="1" height="22" fill="#000"/>
<rect x="173" y="493" width="5" height="19" fill="#000"/>
<rect x="183" y="483" width="1" height="22" fill="#000"/>
<rect x="181" y="496" width="5" height="4" fill="#000"/>
<rect x="191" y="492" width="1" height="17" fill="#000"/>
<rect x="189" y="495" width="5" height="7" fill="#000"/>
<rect x="190" y="496" width="3" height="5" fill="#fff"/>
<rect x="199" y="494" width="1" height="32" fill="#000"/>
<rect x="197" y="502" width="5" height="5" fill="#000"/>
<rect x="198" y="503" width="3" height="3" fill="#fff"/>
<rect x="207" y="492" width="1" height="19" fill="#000"/>
<rect x="205" y="499" width="5" height="6" fill="#000"/>
<rect x="206" y="500" width="3" height="4" fill="#fff"/>
<rect x="215" y="488" width="1" height="43" fill="#000"/>
<rect x="213" y="488" width="5" height="35" fill="#000"/>
<rect x="214" y="489" width="3" height="33" fill="#fff"/>
<rect x="223" y="476" width="1" height="23" fill="#000"/>
<rect x="221" y="491" width="5" height="2" fill="#000"/>
<rect x="231" y="496" width="1" height="37" fill="#000"/>
<rect x="229" y="498" width="5" height="24" fill="#000"/>
<rect x="230" y="499" width="3" height="22" fill="#fff"/>
<rect x="239" y="486" width="1" height="20" fill="#000"/>
<rect x="237" y="498" width="5" height="8" fill="#000"/>
<rect x="247" y="501" width="1" height="43" fill="#000"/>
<rect x="245" y="509" width="5" height="35" fill="#000"/>
<rect x="246" y="510" width="3" height="33" fill="#fff"/>
<rect x="255" y="468" width="1" height="48" fill="#000"/>
<rect x="253" y="478" width="5" height="32" fill="#000"/>
<rect x="254" y="479" width="3" height="30" fill="#fff"/>
<rect x="263" y="474" width="1" height="40" fill="#000"/>
<rect x="261" y="482" width="5" height="22" fill="#000"/>
<rect x="271" y="494" width="1" height="65" fill="#000"/>
<rect x="269" y="501" width="5" height="29" fill="#000"/>
<rect x="279" y="469" width="1" height="72" fill="#000"/>
<rect x="277" y="497" width="5" height="22" fill="#000"/>
<rect x="278" y="498" width="3" height="20" fill="#fff"/>
<rect x="287" y="494" width="1" height="27" fill="#000"/>
<rect x="285" y="496" width="5" height="21" fill="#000"/>
<rect x="295" y="516" width="1" height="31" fill="#000"/>
<rect x="293" y="537" width="5" height="3" fill="#000"/>
<rect x="294" y="538" width="3" height="1" fill="#fff"/>
<rect x="303" y="529" width="1" height="20" fill="#000"/>
<rect x="301" y="538" width="5" height="8" fill="#000"/>
<rect x="311" y="521" width="1" height="46" fill="#000"/>
<rect x="309" y="534" width="5" height="26" fill="#000"/>
<rect x="310" y="535" width="3" height="24" fill="#fff"/>
<rect x="319" y="522" width="1" height="19" fill="#000"/>
<rect x="317" y="525" width="5" height="10" fill="#000"/>
<rect x="318" y="526" width="3" height="8" fill="#fff"/>
<rect x="327" y="453" width="1" height="56" fill="#000"/>
<rect x="325" y="455" width="5" height="48" fill="#000"/>
<rect x="326" y="456" width="3" height="46" fill="#fff"/>
<rect x="335" y="437" width="1" height="20" fill="#000"/>
<rect x="333" y="442" width="5" height="11" fill="#000"/>
<rect x="334" y="443" width="3" height="9" fill="#fff"/>
<rect x="343" y="407" width="1" height="40" fill="#000"/>
<rect x="341" y="416" width="5" height="9" fill="#000"/>
<rect x="342" y="417" width="3" height="7" fill="#fff"/>
<rect x="351" y="414" width="1" height="18" fill="#000"/>
<rect x="349" y="416" width="5" height="9" fill="#000"/>
<rect x="359" y="410" width="1" height="26" fill="#000"/>
<rect x="357" y="420" width="5" height="6" fill="#000"/>
<rect x="367" y="424" width="1" height="15" fill="#000"/>
<rect x="365" y="424" width="5" height="8" fill="#000"/>
<rect x="375" y="396" width="1" height="49" fill="#000"/>
<rect x="373" y="422" width="5" height="8" fill="#000"/>
<rect x="383" y="399" width="1" height="28" fill="#000"/>
<rect x="381" y="411" width="5" height="16" fill="#000"/>
<rect x="382" y="412" width="3" height="14" fill="#fff"/>
<rect x="391" y="362" width="1" height="39" fill="#000"/>
<rect x="389" y="377" width="5" height="17" fill="#000"/>
<rect x="390" y="378" width="3" height="15" fill="#fff"/>
<rect x="399" y="374" width="1" height="19" fill="#000"/>
<rect x="397" y="376" width="5" height="2" fill="#000"/>
<rect x="407" y="358" width="1" height="36" fill="#000"/>
<rect x="405" y="378" width="5" height="7" fill="#000"/>
<rect x="415" y="382" width="1" height="26" fill="#000"/>
<rect x="413" y="384" width="5" height="22" fill="#000"/>
<rect x="423" y="382" width="1" height="27" fill="#000"/>
<rect x="421" y="388" width="5" height="13" fill="#000"/>
<rect x="422" y="389" width="3" height="11" fill="#fff"/>
<rect x="431" y="387" width="1" height="16" fill="#000"/>
<rect x="429" y="387" width="5" height="16" fill="#000"/>
<rect x="439" y="375" width="1" height="25" fill="#000"/>
<rect x="437" y="388" width="5" height="3" fill="#000"/>
<rect x="438" y="389" width="3" height="1" fill="#fff"/>
<rect x="447" y="382" width="1" height="11" fill="#000"/>
<rect x="445" y="387" width="5" height="5" fill="#000"/>
<rect x="455" y="385" width="1" height="51" fill="#000"/>
<rect x="453" y="391" width="5" height="38" fill="#000"/>
<rect x="463" y="419" width="1" height="11" fill="#000"/>
<rect x="461" y="425" width="5" height="3" fill="#000"/>
<rect x="462" y="426" width="3" height="1" fill="#fff"/>
<rect x="471" y="397" width="1" height="25" fill="#000"/>
<rect x="469" y="402" width="5" height="11" fill="#000"/>
<rect x="470" y="403" width="3" height="9" fill="#fff"/>
<rect x="479" y="383" width="1" height="24" fill="#000"/>
<rect x="477" y="394" width="5" height="10" fill="#000"/>
<rect x="478" y="395" width="3" height="8" fill="#fff"/>
<rect x="487" y="388" width="1" height="28" fill="#000"/>
<rect x="485" y="389" width="5" height="14" fill="#000"/>
<rect x="495" y="391" width="1" height="17" fill="#000"/>
<rect x="493" y="403" width="5" height="1" fill="#000"/>
<rect x="503" y="355" width="1" height="39" fill="#000"/>
<rect x="501" y="358" width="5" height="33" fill="#000"/>
<rect x="502" y="359" width="3" height="31" fill="#fff"/>
<rect x="511" y="362" width="1" height="14" fill="#000"/>
<rect x="509" y="363" width="5" height="10" fill="#000"/>
<rect x="519" y="348" width="1" height="39" fill="#000"/>
<rect x="517" y="352" width="5" height="34" fill="#000"/>
<rect x="527" y="383" width="1" height="13" fill="#000"/>
<rect x="525" y="385" width="5" height="10" fill="#000"/>
<rect x="535" y="384" width="1" height="28" fill="#000"/>
<rect x="533" y="390" width="5" height="8" fill="#000"/>
<rect x="543" y="396" width="1" height="16" fill="#000"/>
<rect x="541" y="397" width="5" height="14" fill="#000"/>
<rect x="551" y="354" width="1" height="49" fill="#000"/>
<rect x="549" y="363" width="5" height="35" fill="#000"/>
<rect x="550" y="364" width="3" height="33" fill="#fff"/>
<rect x="559" y="360" width="1" height="23" fill="#000"/>
<rect x="557" y="362" width="5" height="2" fill="#000"/>
<rect x="567" y="348" width="1" height="47" fill="#000"/>
<rect x="565" y="354" width="5" height="35" fill="#000"/>
<rect x="566" y="355" width="3" height="33" fill="#fff"/>
<rect x="575" y="339" width="1" height="19" fill="#000"/>
<rect x="573" y="340" width="5" height="15" fill="#000"/>
<rect x="574" y="341" width="3" height="13" fill="#fff"/>
<rect x="583" y="285" width="1" height="44" fill="#000"/>
<rect x="581" y="291" width="5" height="38" fill="#000"/>
<rect x="582" y="292" width="3" height="36" fill="#fff"/>
<rect x="591" y="276" width="1" height="22" fill="#000"/>
<rect x="589" y="277" width="5" height="15" fill="#000"/>
<rect x="590" y="278" width="3" height="13" fill="#fff"/>
<rect x="599" y="259" width="1" height="38" fill="#000"/>
<rect x="597" y="260" width="5" height="15" fill="#000"/>
<rect x="598" y="261" width="3" height="13" fill="#fff"/>
<rect x="607" y="254" width="1" height="19" fill="#000"/>
<rect x="605" y="259" width="5" height="8" fill="#000"/>
<rect x="615" y="258" width="1" height="28" fill="#000"/>
<rect x="613" y="265" width="5" height="7" fill="#000"/>
<rect x="614" y="266" width="3" height="5" fill="#fff"/>
<rect x="623" y="250" width="1" height="19" fill="#000"/>
<rect x="621" y="258" width="5" height="9" fill="#000"/>
<rect x="622" y="259" width="3" height="7" fill="#fff"/>
<rect x="631" y="259" width="1" height="27" fill="#000"/>
<rect x="629" y="270" width="5" height="8" fill="#000"/>
<rect x="639" y="229" width="1" height="52" fill="#000"/>
<rect x="637" y="247" width="5" height="31" fill="#000"/>
<rect x="638" y="248" width="3" height="29" fill="#fff"/>
<rect x="647" y="239" width="1" height="28" fill="#000"/>
<rect x="645" y="239" width="5" height="21" fill="#000"/>
<rect x="655" y="259" width="1" height="20" fill="#000"/>
<rect x="653" y="259" width="5" height="8" fill="#000"/>
<rect x="663" y="296" width="1" height="67" fill="#000"/>
<rect x="661" y="297" width="5" height="56" fill="#000"/>
<rect x="671" y="354" width="1" height="33" fill="#000"/>
<rect x="669" y="355" width="5" height="6" fill="#000"/>
<rect x="679" y="342" width="1" height="50" fill="#000"/>
<rect x="677" y="342" width="5" height="24" fill="#000"/>
<rect x="687" y="347" width="1" height="24" fill="#000"/>
<rect x="685" y="362" width="5" height="3" fill="#000"/>
<rect x="686" y="363" width="3" height="1" fill="#fff"/>
<rect x="695" y="395" width="1" height="41" fill="#000"/>
<rect x="693" y="396" width="5" height="25" fill="#000"/>
<rect x="703" y="419" width="1" height="18" fill="#000"/>
<rect x="701" y="420" width="5" height="11" fill="#000"/>
<rect x="711" y="412" width="1" height="51" fill="#000"/>
<rect x="709" y="438" width="5" height="19" fill="#000"/>
<rect x="719" y="442" width="1" height="32" fill="#000"/>
<rect x="717" y="453" width="5" height="4" fill="#000"/>
<rect x="718" y="454" width="3" height="2" fill="#fff"/>
<rect x="727" y="413" width="1" height="38" fill="#000"/>
<rect x="725" y="427" width="5" height="17" fill="#000"/>
<rect x="735" y="441" width="1" height="20" fill="#000"/>
<rect x="733" y="445" width="5" height="16" fill="#000"/>
<rect x="743" y="404" width="1" height="51" fill="#000"/>
<rect x="741" y="414" width="5" height="41" fill="#000"/>
<rect x="742" y="415" width="3" height="39" fill="#fff"/>
<rect x="751" y="401" width="1" height="34" fill="#000"/>
<rect x="749" y="404" width="5" height="12" fill="#000"/>
<rect x="750" y="405" width="3" height="10" fill="#fff"/>
<rect x="759" y="362" width="1" height="68" fill="#000"/>
<rect x="757" y="369" width="5" height="59" fill="#000"/>
<rect x="758" y="370" width="3" height="57" fill="#fff"/>
<rect x="767" y="345" width="1" height="26" fill="#000"/>
<rect x="765" y="350" width="5" height="19" fill="#000"/>
<rect x="766" y="351" width="3" height="17" fill="#fff"/>
<rect x="775" y="366" width="1" height="25" fill="#000"/>
<rect x="773" y="373" width="5" height="5" fill="#000"/>
<rect x="774" y="374" width="3" height="3" fill="#fff"/>
<rect x="783" y="365" width="1" height="23" fill="#000"/>
<rect x="781" y="373" width="5" height="15" fill="#000"/>
<rect x="791" y="416" width="1" height="46" fill="#000"/>
<rect x="789" y="419" width="5" height="19" fill="#000"/>
<rect x="799" y="427" width="1" height="15" fill="#000"/>
<rect x="797" y="437" width="5" height="2" fill="#000"/>
<rect x="807" y="405" width="1" height="28" fill="#000"/>
<rect x="805" y="414" width="5" height="10" fill="#000"/>
<rect x="815" y="409" width="1" height="23" fill="#000"/>
<rect x="813" y="411" width="5" height="15" fill="#000"/>
<rect x="814" y="412" width="3" height="13" fill="#fff"/>
<rect x="823" y="340" width="1" height="69" fill="#000"/>
<rect x="821" y="347" width="5" height="62" fill="#000"/>
<rect x="822" y="348" width="3" height="60" fill="#fff"/>
<rect x="831" y="349" width="1" height="21" fill="#000"/>
<rect x="829" y="349" width="5" height="8" fill="#000"/>
<rect x="839" y="323" width="1" height="45" fill="#000"/>
<rect x="837" y="335" width="5" height="28" fill="#000"/>
<rect x="847" y="355" width="1" height="16" fill="#000"/>
<rect x="845" y="363" width="5" height="2" fill="#000"/>
<rect x="855" y="350" width="1" height="20" fill="#000"/>
<rect x="853" y="351" width="5" height="10" fill="#000"/>
<rect x="863" y="354" width="1" height="14" fill="#000"/>
<rect x="861" y="357" width="5" height="5" fill="#000"/>
<rect x="862" y="358" width="3" height="3" fill="#fff"/>
<rect x="871" y="352" width="1" height="37" fill="#000"/>
<rect x="869" y="365" width="5" height="21" fill="#000"/>
<rect x="870" y="366" width="3" height="19" fill="#fff"/>
<rect x="879" y="361" width="1" height="18" fill="#000"/>
<rect x="877" y="365" width="5" height="14" fill="#000"/>
<rect x="887" y="376" width="1" height="75" fill="#000"/>
<rect x="885" y="376" width="5" height="69" fill="#000"/>
<rect x="895" y="439" width="1" height="15" fill="#000"/>
<rect x="893" y="444" width="5" height="8" fill="#000"/>
<rect x="903" y="419" width="1" height="22" fill="#000"/>
<rect x="901" y="430" width="5" height="4" fill="#000"/>
<rect x="902" y="431" width="3" height="2" fill="#fff"/>
<rect x="911" y="429" width="1" height="8" fill="#000"/>
<rect x="909" y="429" width="5" height="2" fill="#000"/>
<rect x="919" y="433" width="1" height="57" fill="#000"/>
<rect x="917" y="436" width="5" height="19" fill="#000"/>
<rect x="918" y="437" width="3" height="17" fill="#fff"/>
<rect x="927" y="436" width="1" height="11" fill="#000"/>
<rect x="925" y="437" width="5" height="9" fill="#000"/>
<rect x="935" y="470" width="1" height="34" fill="#000"/>
<rect x="933" y="486" width="5" height="10" fill="#000"/>
<rect x="934" y="487" width="3" height="8" fill="#fff"/>
<rect x="943" y="477" width="1" height="16" fill="#000"/>
<rect x="941" y="484" width="5" height="6" fill="#000"/>
<rect x="951" y="453" width="1" height="28" fill="#000"/>
<rect x="949" y="463" width="5" height="15" fill="#000"/>
<rect x="959" y="460" width="1" height="19" fill="#000"/>
<rect x="957" y="465" width="5" height="12" fill="#000"/>
<rect x="958" y="466" width="3" height="10" fill="#fff"/>
<rect x="967" y="424" width="1" height="33" fill="#000"/>
<rect x="965" y="438" width="5" height="19" fill="#000"/>
<rect x="966" y="439" width="3" height="17" fill="#fff"/>
<rect x="975" y="421" width="1" height="25" fill="#000"/>
<rect x="973" y="427" width="5" height="14" fill="#000"/>
<rect x="974" y="428" width="3" height="12" fill="#fff"/>
<rect x="983" y="407" width="1" height="32" fill="#000"/>
<rect x="981" y="428" width="5" height="3" fill="#000"/>
<rect x="982" y="429" width="3" height="1" fill="#fff"/>
<rect x="991" y="420" width="1" height="12" fill="#000"/>
<rect x="989" y="427" width="5" height="2" fill="#000"/>
<rect x="999" y="419" width="1" height="39" fill="#000"/>
<rect x="997" y="429" width="5" height="15" fill="#000"/>
<rect x="998" y="430" width="3" height="13" fill="#fff"/>
<rect x="1007" y="425" width="1" height="16" fill="#000"/>
<rect x="1005" y="429" width="5" height="12" fill="#000"/>
<rect x="1015" y="423" width="1" height="26" fill="#000"/>
<rect x="1013" y="424" width="5" height="18" fill="#000"/>
<rect x="1014" y="425" width="3" height="16" fill="#fff"/>
<rect x="1023" y="403" width="1" height="25" fill="#000"/>
<rect x="1021" y="407" width="5" height="18" fill="#000"/>
<rect x="1022" y="408" width="3" height="16" fill="#fff"/>
<rect x="1031" y="347" width="1" height="45" fill="#000"/>
<rect x="1029" y="354" width="5" height="38" fill="#000"/>
<rect x="1030" y="355" width="3" height="36" fill="#fff"/>
<rect x="1039" y="349" width="1" height="14" fill="#000"/>
<rect x="1037" y="355" width="5" height="5" fill="#000"/>
<rect x="1047" y="276" width="1" height="25" fill="#000"/>
<rect x="1045" y="280" width="5" height="15" fill="#000"/>
<rect x="1046" y="281" width="3" height="13" fill="#fff"/>
<rect x="1055" y="257" width="1" height="27" fill="#000"/>
<rect x="1053" y="262" width="5" height="18" fill="#000"/>
<rect x="1054" y="263" width="3" height="16" fill="#fff"/>
<rect x="1063" y="257" width="1" height="33" fill="#000"/>
<rect x="1061" y="277" width="5" height="2" fill="#000"/>
<rect x="1071" y="271" width="1" height="18" fill="#000"/>
<rect x="1069" y="276" width="5" height="4" fill="#000"/>
<rect x="1079" y="240" width="1" height="43" fill="#000"/>
<rect x="1077" y="243" width="5" height="33" fill="#000"/>
<rect x="1078" y="244" width="3" height="31" fill="#fff"/>
<rect x="1087" y="232" width="1" height="20" fill="#000"/>
<rect x="1085" y="242" width="5" height="5" fill="#000"/>
<rect x="1095" y="218" width="1" height="34" fill="#000"/>
<rect x="1093" y="235" width="5" height="7" fill="#000"/>
<rect x="1103" y="230" width="1" height="19" fill="#000"/>
<rect x="1101" y="233" width="5" height="8" fill="#000"/>
<rect x="1102" y="234" width="3" height="6" fill="#fff"/>
<rect x="1111" y="225" width="1" height="40" fill="#000"/>
<rect x="1109" y="235" width="5" height="24" fill="#000"/>
<rect x="1119" y="241" width="1" height="19" fill="#000"/>
<rect x="1117" y="248" width="5" height="12" fill="#000"/>
<rect x="1118" y="249" width="3" height="10" fill="#fff"/>
<rect x="1127" y="220" width="1" height="36" fill="#000"/>
<rect x="1125" y="230" width="5" height="20" fill="#000"/>
<rect x="1126" y="231" width="3" height="18" fill="#fff"/>
<rect x="1135" y="230" width="1" height="17" fill="#000"/>
<rect x="1133" y="230" width="5" height="1" fill="#000"/>
<rect x="1143" y="212" width="1" height="32" fill="#000"/>
<rect x="1141" y="216" width="5" height="19" fill="#000"/>
<rect x="1151" y="233" width="1" height="10" fill="#000"/>
<rect x="1149" y="234" width="5" height="8" fill="#000"/>
<rect x="1159" y="220" width="1" height="18" fill="#000"/>
<rect x="1157" y="224" width="5" height="7" fill="#000"/>
<rect x="1167" y="174" width="1" height="32" fill="#000"/>
<rect x="1165" y="181" width="5" height="21" fill="#000"/>
<rect x="1166" y="182" width="3" height="19" fill="#fff"/>
<rect x="1175" y="175" width="1" height="13" fill="#000"/>
<rect x="1173" y="178" width="5" height="3" fill="#000"/>
<rect x="1174" y="179" width="3" height="1" fill="#fff"/>
<rect x="1183" y="148" width="1" height="37" fill="#000"/>
<rect x="1181" y="152" width="5" height="28" fill="#000"/>
<rect x="1182" y="153" width="3" height="26" fill="#fff"/>
<rect x="1191" y="151" width="1" height="18" fill="#000"/>
<rect x="1189" y="153" width="5" height="12" fill="#000"/>
<rect x="1199" y="166" width="1" height="29" fill="#000"/>
<rect x="1197" y="179" width="5" height="4" fill="#000"/>
<rect x="1207" y="136" width="1" height="57" fill="#000"/>
<rect x="1205" y="145" width="5" height="28" fill="#000"/>
<rect x="1206" y="146" width="3" height="26" fill="#fff"/>
<rect x="1215" y="135" width="1" height="24" fill="#000"/>
<rect x="1213" y="138" width="5" height="9" fill="#000"/>
<rect x="1214" y="139" width="3" height="7" fill="#fff"/>
<rect x="1223" y="91" width="1" height="65" fill="#000"/>
<rect x="1221" y="100" width="5" height="47" fill="#000"/>
<rect x="1231" y="144" width="1" height="20" fill="#000"/>
<rect x="1229" y="146" width="5" height="15" fill="#000"/>
<rect x="1239" y="162" width="1" height="28" fill="#000"/>
<rect x="1237" y="178" width="5" height="4" fill="#000"/>
<rect x="1238" y="179" width="3" height="2" fill="#fff"/>
<rect x="1247" y="171" width="1" height="41" fill="#000"/>
<rect x="1245" y="175" width="5" height="22" fill="#000"/>
<rect x="1255" y="148" width="1" height="32" fill="#000"/>
<rect x="1253" y="162" width="5" height="3" fill="#000"/>
<rect x="1254" y="163" width="3" height="1" fill="#fff"/>
<rect x="1263" y="159" width="1" height="25" fill="#000"/>
<rect x="1261" y="160" width="5" height="10" fill="#000"/>
<rect x="1271" y="187" width="1" height="54" fill="#000"/>
<rect x="1269" y="200" width="5" height="36" fill="#000"/>
<rect x="1270" y="201" width="3" height="34" fill="#fff"/>
<rect x="1279" y="199" width="1" height="24" fill="#000"/>
<rect x="1277" y="199" width="5" height="16" fill="#000"/>
<rect x="1287" y="153" width="1" height="19" fill="#000"/>
<rect x="1285" y="159" width="5" height="7" fill="#000"/>
<rect x="1286" y="160" width="3" height="5" fill="#fff"/>
<rect x="1295" y="134" width="1" height="25" fill="#000"/>
<rect x="1293" y="136" width="5" height="23" fill="#000"/>
<rect x="1294" y="137" width="3" height="21" fill="#fff"/>
<rect x="1303" y="122" width="1" height="27" fill="#000"/>
<rect x="1301" y="130" width="5" height="5" fill="#000"/>
<rect x="1311" y="124" width="1" height="17" fill="#000"/>
<rect x="1309" y="130" width="5" height="4" fill="#000"/>
<rect x="1310" y="131" width="3" height="2" fill="#fff"/>
<rect x="1319" y="81" width="1" height="43" fill="#000"/>
<rect x="1317" y="92" width="5" height="32" fill="#000"/>
<rect x="1318" y="93" width="3" height="30" fill="#fff"/>
<rect x="1327" y="77" width="1" height="16" fill="#000"/>
<rect x="1325" y="90" width="5" height="3" fill="#000"/>
<rect x="1326" y="91" width="3" height="1" fill="#fff"/>
<rect x="1335" y="56" width="1" height="37" fill="#000"/>
<rect x="1333" y="59" width="5" height="32" fill="#000"/>
<rect x="1343" y="83" width="1" height="30" fill="#000"/>
<rect x="1341" y="90" width="5" height="23" fill="#000"/>
<rect x="0" y="407" width="2" height="5" fill="#000"/>
<rect x="1259" y="93" width="128" height="10" fill="#00ee00"/>
</g>
<g stroke="#ff0000" stroke-width="3.2" fill="#ff0000" stroke-linejoin="miter">
<line x1="1221.5" y1="105.5" x2="1265.9" y2="230.1"/><polygon stroke="none" points="1269.6,240.5 1261.5,231.7 1270.3,228.6"/>
<line x1="1269.6" y1="240.5" x2="1331.4" y2="60.4"/><polygon stroke="none" points="1335.0,50.0 1335.9,61.9 1327.0,58.9"/>
<line x1="1335.0" y1="50.0" x2="1366.3" y2="118.8"/><polygon stroke="none" points="1370.8,128.8 1362.0,120.7 1370.5,116.8"/>
</g>
<g shape-rendering="crispEdges">
<path d="M1231 594.5h3M1237 594.5h3M1225 595.5h2M1243 595.5h2M1219 596.5h2M1213 597.5h3M1249 597.5h3M1207 598.5h3M1255 598.5h2M1196 599.5h2M1201 599.5h3M1189 600.5h3M1183 601.5h3M1262 601.5h2M1159 602.5h3M1165 602.5h3M1171 602.5h3M1177 602.5h2M1147 603.5h3M1153 603.5h2M1142 604.5h2M1268 604.5h2M1135 607.5h2M76 609.5h3M1130 609.5h2M70 610.5h3M82 610.5h3M65 611.5h2M1280 611.5h2M88 612.5h2M59 613.5h2M1285 614.5h2M94 615.5h2M53 616.5h2M659 617.5h2M100 618.5h2M665 618.5h2M1291 618.5h2M652 619.5h2M670 619.5h2M647 621.5h2M676 622.5h2M1298 622.5h2M40 624.5h2M1303 624.5h2M640 625.5h2M35 627.5h2M1310 627.5h2M635 628.5h2M1315 628.5h2M1321 629.5h2M1339 629.5h3M1327 630.5h3M1333 630.5h3M29 631.5h2M629 632.5h2M616 640.5h2M454 648.5h3M460 648.5h3M605 648.5h2M449 649.5h2M467 649.5h2M473 650.5h2M442 651.5h3M478 651.5h3M598 652.5h2M436 653.5h2M485 653.5h2M490 654.5h3M430 655.5h3M496 655.5h3M592 655.5h2M502 656.5h3M508 657.5h3M586 657.5h3M424 658.5h2M515 658.5h2M520 658.5h3M581 658.5h2M526 659.5h3M532 660.5h3M538 660.5h3M544 660.5h3M574 660.5h3M418 661.5h2M550 661.5h3M556 661.5h3M562 661.5h3M568 661.5h3M413 664.5h2M893 695.5h3M887 696.5h3M899 696.5h3M179 697.5h2M881 697.5h3M905 697.5h3M911 698.5h2M876 699.5h2M918 701.5h2M870 702.5h2M371 704.5h2M924 704.5h2M864 705.5h2M930 707.5h2M1043 707.5h2M857 708.5h2M365 709.5h2M851 710.5h3M197 712.5h2M846 712.5h2M1037 712.5h2M941 714.5h2M839 715.5h2M203 716.5h2M833 716.5h3M353 718.5h2M827 718.5h2M821 719.5h3M755 720.5h2M348 721.5h2M815 721.5h2M809 722.5h3M215 723.5h2M1020 723.5h2M342 724.5h2M804 724.5h2M762 725.5h2M222 726.5h2M797 726.5h3M959 726.5h2M1014 726.5h2M336 727.5h2M767 727.5h2M791 727.5h3M227 728.5h3M779 728.5h3M785 728.5h2M329 729.5h3M773 729.5h3M966 729.5h2M1007 729.5h2M233 730.5h3M323 730.5h3M971 730.5h2M1001 730.5h3M239 731.5h3M245 731.5h3M251 731.5h3M257 731.5h3M263 731.5h3M269 731.5h3M275 731.5h3M281 731.5h3M287 731.5h3M293 731.5h3M299 731.5h3M305 731.5h2M317 731.5h3M977 731.5h3M983 731.5h3M989 731.5h3M995 731.5h3M311 732.5h3M0.5 660v1M1.5 659v1M2.5 658v1M5.5 653v2M6.5 652v1M10.5 648v1M11.5 647v1M12.5 646v1M16.5 642v1M17.5 641v1M18.5 640v1M22.5 637v1M23.5 636v1M24.5 635v1M28.5 632v1M34.5 628v1M42.5 623v1M46.5 621v1M47.5 620v1M48.5 619v1M52.5 617v1M58.5 614v1M64.5 612v1M90.5 613v1M96.5 616v1M102.5 619v1M106.5 621v1M107.5 622v1M108.5 623v1M112.5 626v1M113.5 627v1M114.5 628v1M118.5 631v1M119.5 632v1M120.5 633v1M124.5 637v1M125.5 638v1M126.5 639v1M130.5 643v1M131.5 644v2M135.5 649v1M136.5 650v1M137.5 651v1M140.5 655v1M141.5 656v2M145.5 661v1M146.5 662v1M147.5 663v1M150.5 667v1M151.5 668v1M152.5 669v1M155.5 673v1M156.5 674v1M157.5 675v1M161.5 679v1M162.5 680v1M163.5 681v1M167.5 685v1M168.5 686v1M169.5 687v1M173.5 691v1M174.5 692v1M175.5 693v1M181.5 698v1M185.5 702v1M186.5 703v1M187.5 704v1M191.5 707v1M192.5 708v1M193.5 709v1M199.5 713v1M205.5 717v1M209.5 719v1M210.5 720v1M211.5 721v1M217.5 724v1M221.5 725v1M307.5 732v1M335.5 728v1M341.5 725v1M347.5 722v1M355.5 717v1M359.5 714v1M360.5 713v1M361.5 712v1M367.5 708v1M373.5 703v1M377.5 699v1M378.5 698v1M379.5 697v1M383.5 693v1M384.5 692v1M385.5 691v1M388.5 687v1M389.5 686v1M390.5 685v1M394.5 681v1M395.5 680v1M396.5 679v1M400.5 675v1M401.5 674v1M402.5 673v1M406.5 669v1M407.5 668v1M408.5 667v1M412.5 665v1M420.5 660v1M426.5 657v1M438.5 652v1M448.5 650v1M466.5 648v1M472.5 649v1M484.5 652v1M514.5 657v1M580.5 659v1M594.5 654v1M600.5 651v1M604.5 649v1M610.5 645v1M611.5 644v1M612.5 643v1M618.5 639v1M622.5 637v1M623.5 636v1M624.5 635v1M628.5 633v1M634.5 629v1M642.5 624v1M646.5 622v1M654.5 618v1M658.5 618v1M664.5 617v1M672.5 620v1M678.5 623v1M682.5 625v1M683.5 626v1M684.5 627v1M688.5 630v1M689.5 631v1M690.5 632v1M694.5 636v1M695.5 637v1M696.5 638v1M699.5 642v1M700.5 643v1M701.5 644v1M704.5 648v2M705.5 650v1M708.5 654v2M709.5 656v1M712.5 660v2M713.5 662v1M715.5 666v1M716.5 667v1M717.5 668v1M719.5 672v1M720.5 673v2M723.5 678v1M724.5 679v2M727.5 684v1M728.5 685v2M731.5 690v1M732.5 691v2M735.5 696v1M736.5 697v1M737.5 698v1M740.5 702v1M741.5 703v2M745.5 708v2M746.5 710v1M749.5 714v1M750.5 715v1M751.5 716v1M757.5 721v1M761.5 724v1M769.5 728v1M787.5 727v1M803.5 725v1M817.5 720v1M829.5 717v1M841.5 714v1M845.5 713v1M859.5 707v1M863.5 706v1M869.5 703v1M875.5 700v1M913.5 699v1M917.5 700v1M923.5 703v1M929.5 706v1M935.5 709v1M936.5 710v1M937.5 711v1M943.5 715v1M947.5 718v1M948.5 719v1M949.5 720v1M953.5 722v1M954.5 723v1M955.5 724v1M961.5 727v1M965.5 728v1M973.5 731v1M1009.5 728v1M1013.5 727v1M1019.5 724v1M1025.5 721v1M1026.5 720v1M1027.5 719v1M1031.5 717v1M1032.5 716v1M1033.5 715v1M1039.5 711v1M1045.5 706v1M1049.5 702v1M1050.5 701v1M1051.5 700v1M1055.5 696v1M1056.5 695v1M1057.5 694v1M1060.5 690v1M1061.5 688v2M1065.5 683v2M1066.5 682v1M1069.5 678v1M1070.5 677v1M1071.5 676v1M1074.5 672v1M1075.5 670v2M1078.5 666v1M1079.5 665v1M1080.5 664v1M1083.5 659v2M1084.5 658v1M1087.5 654v1M1088.5 652v2M1091.5 648v1M1092.5 647v1M1093.5 646v1M1096.5 641v2M1097.5 640v1M1100.5 636v1M1101.5 635v1M1102.5 634v1M1105.5 630v1M1106.5 629v1M1107.5 628v1M1111.5 624v1M1112.5 623v1M1113.5 622v1M1117.5 619v1M1118.5 618v1M1119.5 617v1M1123.5 614v1M1124.5 613v1M1125.5 612v1M1129.5 610v1M1137.5 606v1M1141.5 605v1M1155.5 602v1M1179.5 601v1M1195.5 600v1M1221.5 595v1M1227.5 594v1M1245.5 596v1M1257.5 599v1M1261.5 600v1M1267.5 603v1M1273.5 606v1M1274.5 607v1M1275.5 608v1M1279.5 610v1M1287.5 615v1M1293.5 619v1M1297.5 621v1M1305.5 625v1M1309.5 626v1M1317.5 629v1M1323.5 630v1" stroke="#ff0000" stroke-width="1" fill="none"/>
<path d="M1181 792.5h2M1179 793.5h2M1176 795.5h2M1187 795.5h2M46 796.5h2M1167 796.5h9M43 797.5h3M598 797.5h2M1054 797.5h2M1101 797.5h3M41 798.5h2M595 798.5h3M600 798.5h2M1051 798.5h3M1079 798.5h2M1097 798.5h4M38 799.5h3M593 799.5h2M602 799.5h2M619 799.5h5M1049 799.5h2M1081 799.5h4M1091 799.5h6M1211 799.5h6M13 800.5h6M36 800.5h2M590 800.5h3M604 800.5h2M611 800.5h8M1047 800.5h2M1085 800.5h6M1207 800.5h4M1217 800.5h2M9 801.5h4M19 801.5h6M34 801.5h2M587 801.5h3M606 801.5h5M1075 801.5h2M1219 801.5h3M7 802.5h2M25 802.5h4M32 802.5h2M585 802.5h2M1222 802.5h2M29 803.5h3M583 803.5h2M1126 804.5h11M1063 805.5h9M1124 805.5h2M1137 805.5h4M635 806.5h2M1122 806.5h2M1141 806.5h3M643 807.5h2M1120 807.5h2M1144 807.5h2M1158 807.5h2M1323 807.5h8M1117 808.5h3M1156 808.5h2M1319 808.5h4M1331 808.5h5M391 809.5h10M1113 809.5h4M1147 809.5h2M1154 809.5h2M401 810.5h2M647 810.5h2M1111 810.5h2M1149 810.5h2M1152 810.5h2M403 811.5h3M649 811.5h2M55 812.5h2M406 812.5h2M651 812.5h3M57 813.5h2M654 813.5h2M59 814.5h3M62 815.5h2M574 815.5h2M1031 815.5h2M572 816.5h2M1033 816.5h2M1307 816.5h5M570 817.5h2M1035 817.5h3M1299 817.5h8M343 818.5h2M568 818.5h2M1038 818.5h2M1295 818.5h4M341 819.5h2M345 819.5h2M381 819.5h2M421 819.5h2M566 819.5h2M1256 819.5h2M1293 819.5h2M339 820.5h2M347 820.5h3M379 820.5h2M507 820.5h2M564 820.5h2M1258 820.5h2M1291 820.5h2M350 821.5h5M438 821.5h5M562 821.5h2M1260 821.5h2M336 822.5h2M355 822.5h6M376 822.5h2M417 822.5h2M427 822.5h2M436 822.5h2M443 822.5h5M560 822.5h2M1262 822.5h2M1288 822.5h2M334 823.5h2M361 823.5h4M371 823.5h5M434 823.5h2M551 823.5h9M332 824.5h2M365 824.5h6M432 824.5h2M330 825.5h2M513 825.5h2M328 826.5h2M478 827.5h3M475 828.5h3M481 828.5h2M517 828.5h2M473 829.5h2M483 829.5h3M519 829.5h2M823 829.5h2M471 830.5h2M486 830.5h5M521 830.5h2M825 830.5h2M75 831.5h2M86 831.5h3M491 831.5h5M523 831.5h3M827 831.5h3M83 832.5h3M89 832.5h2M526 832.5h3M830 832.5h3M859 832.5h6M81 833.5h2M91 833.5h3M529 833.5h2M765 833.5h2M833 833.5h4M851 833.5h8M865 833.5h2M79 834.5h2M94 834.5h2M531 834.5h3M763 834.5h2M837 834.5h14M867 834.5h3M1021 834.5h2M534 835.5h2M870 835.5h2M760 836.5h2M771 836.5h2M872 836.5h2M1272 836.5h2M537 837.5h2M1017 837.5h2M459 838.5h5M875 838.5h2M1275 838.5h2M455 839.5h4M877 839.5h2M1277 839.5h3M541 840.5h3M776 840.5h2M779 842.5h2M781 843.5h2M974 843.5h26M972 844.5h2M970 845.5h2M1001 845.5h2M117 846.5h3M255 846.5h2M968 846.5h2M113 847.5h4M120 847.5h2M110 848.5h3M122 848.5h2M663 848.5h2M813 848.5h2M1005 848.5h2M107 849.5h3M124 849.5h2M665 849.5h4M750 849.5h2M811 849.5h2M105 850.5h2M126 850.5h2M280 850.5h2M669 850.5h4M685 850.5h3M747 850.5h3M103 851.5h2M151 851.5h2M673 851.5h4M681 851.5h4M745 851.5h2M808 851.5h2M153 852.5h4M283 852.5h2M677 852.5h4M743 852.5h2M157 853.5h3M285 853.5h2M805 853.5h2M317 854.5h2M803 854.5h2M903 854.5h4M215 855.5h4M315 855.5h2M907 855.5h8M213 856.5h2M219 856.5h6M800 856.5h2M915 856.5h6M225 857.5h2M312 857.5h2M791 857.5h9M921 857.5h2M227 858.5h3M291 858.5h2M923 858.5h3M136 859.5h2M209 859.5h2M230 859.5h3M309 859.5h2M926 859.5h2M187 860.5h6M233 860.5h4M957 860.5h2M139 861.5h2M183 861.5h4M193 861.5h4M203 861.5h5M237 861.5h4M295 861.5h2M887 861.5h2M141 862.5h2M197 862.5h6M241 862.5h4M297 862.5h2M305 862.5h2M889 862.5h4M245 863.5h3M299 863.5h3M893 863.5h3M953 863.5h2M168 864.5h2M179 864.5h2M302 864.5h2M171 866.5h2M695 866.5h2M949 866.5h2M173 867.5h2M697 867.5h4M701 868.5h3M726 868.5h3M723 869.5h3M729 869.5h2M935 869.5h2M945 869.5h2M705 870.5h2M721 870.5h2M731 870.5h3M937 870.5h4M718 871.5h3M734 871.5h2M941 871.5h3M715 872.5h3M709 873.5h2M713 873.5h2M711 874.5h2M0.5 813v1M1.5 811v2M2.5 810v1M3.5 808v2M4.5 806v2M5.5 805v1M6.5 803v2M48.5 797v2M49.5 799v2M50.5 801v2M51.5 803v2M52.5 805v2M53.5 807v2M54.5 809v2M55.5 811v1M64.5 816v2M65.5 818v1M66.5 819v2M67.5 821v1M68.5 822v2M69.5 824v1M70.5 825v2M71.5 827v1M72.5 828v1M73.5 829v1M74.5 830v1M77.5 832v1M78.5 833v1M95.5 835v1M96.5 836v2M97.5 838v2M98.5 840v2M99.5 842v2M100.5 844v2M101.5 846v2M102.5 848v2M103.5 850v1M128.5 851v1M129.5 852v1M130.5 853v1M131.5 854v1M132.5 855v1M133.5 856v1M134.5 857v1M135.5 858v1M138.5 860v1M143.5 863v1M144.5 861v2M145.5 860v1M146.5 858v2M147.5 857v1M148.5 855v2M149.5 854v1M150.5 852v2M160.5 854v1M161.5 855v2M162.5 857v1M163.5 858v1M164.5 859v1M165.5 860v2M166.5 862v1M167.5 863v1M170.5 865v1M175.5 868v1M176.5 867v1M177.5 866v1M178.5 865v1M181.5 863v1M182.5 862v1M208.5 860v1M211.5 858v1M212.5 857v1M247.5 862v1M248.5 860v2M249.5 858v2M250.5 856v2M251.5 853v3M252.5 851v2M253.5 849v2M254.5 847v2M255.5 845v1M257.5 847v2M258.5 849v1M259.5 850v1M260.5 851v1M261.5 852v2M262.5 854v1M263.5 855v1M264.5 856v1M265.5 857v1M266.5 858v1M267.5 859v2M268.5 861v1M269.5 862v1M270.5 863v1M271.5 864v1M272.5 862v2M273.5 860v2M274.5 858v2M275.5 856v2M276.5 854v2M277.5 852v2M278.5 850v2M279.5 849v1M282.5 851v1M287.5 854v1M288.5 855v1M289.5 856v1M290.5 857v1M293.5 859v1M294.5 860v1M304.5 863v1M307.5 861v1M308.5 860v1M311.5 858v1M314.5 856v1M319.5 852v2M320.5 849v3M321.5 845v4M322.5 842v3M323.5 839v3M324.5 836v3M325.5 832v4M326.5 829v3M327.5 827v2M338.5 821v1M378.5 821v1M383.5 818v1M384.5 817v1M385.5 816v1M386.5 815v1M387.5 813v2M388.5 812v1M389.5 811v1M390.5 810v1M408.5 813v2M409.5 815v1M410.5 816v2M411.5 818v1M412.5 819v2M413.5 821v1M414.5 822v2M415.5 824v1M416.5 823v1M419.5 821v1M420.5 820v1M423.5 818v1M424.5 819v1M425.5 820v1M426.5 821v1M429.5 823v1M430.5 824v1M431.5 825v1M447.5 823v1M448.5 824v2M449.5 826v2M450.5 828v2M451.5 830v2M452.5 832v2M453.5 834v2M454.5 836v2M455.5 838v1M464.5 837v1M465.5 836v1M466.5 835v1M467.5 834v1M468.5 833v1M469.5 832v1M470.5 831v1M496.5 829v2M497.5 827v2M498.5 825v2M499.5 823v2M500.5 821v2M501.5 819v2M502.5 817v2M503.5 816v1M504.5 817v1M505.5 818v1M506.5 819v1M509.5 821v1M510.5 822v1M511.5 823v1M512.5 824v1M515.5 826v1M516.5 827v1M536.5 836v1M539.5 838v1M540.5 839v1M543.5 841v1M544.5 838v2M545.5 836v2M546.5 834v2M547.5 831v3M548.5 829v2M549.5 827v2M550.5 825v2M551.5 824v1M576.5 813v2M577.5 812v1M578.5 810v2M579.5 809v1M580.5 807v2M581.5 806v1M582.5 804v2M624.5 800v2M625.5 802v1M626.5 803v1M627.5 804v2M628.5 806v1M629.5 807v1M630.5 808v2M631.5 810v1M632.5 809v1M633.5 808v1M634.5 807v1M637.5 805v1M638.5 804v1M639.5 803v1M640.5 804v1M641.5 805v1M642.5 806v1M645.5 808v1M646.5 809v1M655.5 814v2M656.5 816v4M657.5 820v4M658.5 824v5M659.5 829v4M660.5 833v5M661.5 838v4M662.5 842v4M663.5 846v2M688.5 851v2M689.5 853v2M690.5 855v2M691.5 857v2M692.5 859v2M693.5 861v2M694.5 863v2M695.5 865v1M704.5 869v1M707.5 871v1M708.5 872v1M735.5 870v1M736.5 868v2M737.5 866v2M738.5 863v3M739.5 861v2M740.5 858v3M741.5 856v2M742.5 854v2M743.5 853v1M752.5 847v2M753.5 846v1M754.5 844v2M755.5 843v1M756.5 841v2M757.5 840v1M758.5 838v2M759.5 837v1M762.5 835v1M767.5 832v1M768.5 833v1M769.5 834v1M770.5 835v1M773.5 837v1M774.5 838v1M775.5 839v1M778.5 841v1M783.5 844v1M784.5 845v2M785.5 847v2M786.5 849v1M787.5 850v2M788.5 852v1M789.5 853v2M790.5 855v2M802.5 855v1M807.5 852v1M810.5 850v1M815.5 846v2M816.5 844v2M817.5 842v2M818.5 840v2M819.5 837v3M820.5 835v2M821.5 833v2M822.5 831v2M823.5 830v1M874.5 837v1M879.5 840v2M880.5 842v2M881.5 844v3M882.5 847v3M883.5 850v2M884.5 852v3M885.5 855v3M886.5 858v2M887.5 860v1M896.5 862v1M897.5 861v1M898.5 860v1M899.5 858v2M900.5 857v1M901.5 856v1M902.5 855v1M928.5 860v1M929.5 861v2M930.5 863v1M931.5 864v1M932.5 865v1M933.5 866v2M934.5 868v1M944.5 870v1M947.5 868v1M948.5 867v1M951.5 865v1M952.5 864v1M955.5 862v1M956.5 861v1M959.5 859v1M960.5 857v2M961.5 856v1M962.5 854v2M963.5 853v1M964.5 851v2M965.5 850v1M966.5 848v2M967.5 847v1M1000.5 844v1M1003.5 846v1M1004.5 847v1M1007.5 849v1M1008.5 848v1M1009.5 846v2M1010.5 845v1M1011.5 844v1M1012.5 843v1M1013.5 841v2M1014.5 840v1M1015.5 839v1M1016.5 838v1M1019.5 836v1M1020.5 835v1M1023.5 832v2M1024.5 830v2M1025.5 828v2M1026.5 826v2M1027.5 823v3M1028.5 821v2M1029.5 819v2M1030.5 817v2M1031.5 816v1M1039.5 817v1M1040.5 815v2M1041.5 813v2M1042.5 811v2M1043.5 808v3M1044.5 806v2M1045.5 804v2M1046.5 802v2M1047.5 801v1M1056.5 798v1M1057.5 799v1M1058.5 800v1M1059.5 801v1M1060.5 802v1M1061.5 803v1M1062.5 804v1M1072.5 804v1M1073.5 803v1M1074.5 802v1M1077.5 800v1M1078.5 799v1M1104.5 798v2M1105.5 800v2M1106.5 802v1M1107.5 803v2M1108.5 805v1M1109.5 806v2M1110.5 808v2M1146.5 808v1M1151.5 811v1M1160.5 805v2M1161.5 804v1M1162.5 803v1M1163.5 801v2M1164.5 800v1M1165.5 799v1M1166.5 797v2M1178.5 794v1M1183.5 791v1M1184.5 792v1M1185.5 793v1M1186.5 794v1M1189.5 796v1M1190.5 797v1M1191.5 798v1M1192.5 799v1M1193.5 800v2M1194.5 802v1M1195.5 803v1M1196.5 804v1M1197.5 805v2M1198.5 807v1M1199.5 808v1M1200.5 807v1M1201.5 806v1M1202.5 805v1M1203.5 804v1M1204.5 803v1M1205.5 802v1M1206.5 801v1M1224.5 803v1M1225.5 804v1M1226.5 805v1M1227.5 806v2M1228.5 808v1M1229.5 809v1M1230.5 810v1M1231.5 811v1M1232.5 812v1M1233.5 813v1M1234.5 814v1M1235.5 815v2M1236.5 817v1M1237.5 818v1M1238.5 819v1M1239.5 820v1M1240.5 821v1M1241.5 822v1M1242.5 823v1M1243.5 824v2M1244.5 826v1M1245.5 827v1M1246.5 828v1M1247.5 829v1M1248.5 827v2M1249.5 826v1M1250.5 825v1M1251.5 823v2M1252.5 822v1M1253.5 821v1M1254.5 819v2M1255.5 818v1M1264.5 823v2M1265.5 825v2M1266.5 827v1M1267.5 828v2M1268.5 830v1M1269.5 831v2M1270.5 833v2M1271.5 835v1M1274.5 837v1M1279.5 840v1M1280.5 837v2M1281.5 835v2M1282.5 833v2M1283.5 831v2M1284.5 829v2M1285.5 827v2M1286.5 825v2M1287.5 823v2M1290.5 821v1M1312.5 815v1M1313.5 814v1M1314.5 813v1M1315.5 812v1M1316.5 811v1M1317.5 810v1M1318.5 809v1M1336.5 809v1M1337.5 810v1M1338.5 811v1M1339.5 812v2M1340.5 814v1M1341.5 815v1M1342.5 816v1M1343.5 817v1" stroke="#1e90ff" stroke-width="1" fill="none"/>
<rect x="1619" y="48" width="2" height="1" fill="#000"/>
<rect x="1619" y="81" width="2" height="1" fill="#000"/>
<rect x="1619" y="114" width="2" height="1" fill="#000"/>
<rect x="1619" y="147" width="2" height="1" fill="#000"/>
<rect x="1619" y="180" width="2" height="1" fill="#000"/>
<rect x="1619" y="213" width="2" height="1" fill="#000"/>
<rect x="1619" y="246" width="2" height="1" fill="#000"/>
<rect x="1619" y="279" width="2" height="1" fill="#000"/>
<rect x="1619" y="312" width="2" height="1" fill="#000"/>
<rect x="1619" y="345" width="2" height="1" fill="#000"/>
<rect x="1619" y="378" width="2" height="1" fill="#000"/>
<rect x="1619" y="411" width="2" height="1" fill="#000"/>
<rect x="1619" y="444" width="2" height="1" fill="#000"/>
<rect x="1619" y="477" width="2" height="1" fill="#000"/>
<rect x="1619" y="510" width="2" height="1" fill="#000"/>
<rect x="1619" y="543" width="2" height="1" fill="#000"/>
<rect x="1619" y="576" width="2" height="1" fill="#000"/>
<rect x="1619" y="112" width="1" height="1" fill="#000"/>
<rect x="1619" y="583" width="1" height="1" fill="#000"/>
<rect x="1619" y="693" width="1" height="1" fill="#000"/>
<rect x="1619" y="750" width="1" height="1" fill="#000"/>
<rect x="1619" y="755" width="1" height="1" fill="#000"/>
<rect x="1619" y="789" width="1" height="1" fill="#000"/>
<rect x="1619" y="840" width="1" height="1" fill="#000"/>
<rect x="1619" y="901" width="1" height="1" fill="#000"/>
<rect x="1619" y="926" width="1" height="1" fill="#000"/>
<rect x="63" y="928" width="1" height="3" fill="#000"/>
<rect x="127" y="928" width="1" height="3" fill="#000"/>
<rect x="191" y="928" width="1" height="3" fill="#000"/>
<rect x="255" y="928" width="1" height="3" fill="#000"/>
<rect x="319" y="928" width="1" height="3" fill="#000"/>
<rect x="383" y="928" width="1" height="3" fill="#000"/>
<rect x="447" y="928" width="1" height="3" fill="#000"/>
<rect x="511" y="928" width="1" height="3" fill="#000"/>
<rect x="575" y="928" width="1" height="3" fill="#000"/>
<rect x="639" y="928" width="1" height="3" fill="#000"/>
<rect x="703" y="928" width="1" height="3" fill="#000"/>
<rect x="767" y="928" width="1" height="3" fill="#000"/>
<rect x="831" y="928" width="1" height="3" fill="#000"/>
<rect x="895" y="928" width="1" height="3" fill="#000"/>
<rect x="959" y="928" width="1" height="3" fill="#000"/>
<rect x="1023" y="928" width="1" height="3" fill="#000"/>
<rect x="1087" y="928" width="1" height="3" fill="#000"/>
<rect x="1151" y="928" width="1" height="3" fill="#000"/>
<rect x="1215" y="928" width="1" height="3" fill="#000"/>
<rect x="1279" y="928" width="1" height="3" fill="#000"/>
<rect x="1343" y="928" width="1" height="3" fill="#000"/>
<polygon points="1352,27 1363,27 1357.5,32.5" fill="#c0c0c0"/>
</g>
<text x="1623.6" y="52.1" font-family="Liberation Sans, sans-serif" font-size="10px" fill="#000" text-anchor="start"  textLength="33.5" lengthAdjust="spacingAndGlyphs" stroke="#000" stroke-width="0.22">29254.0</text>
<text x="1623.6" y="184.1" font-family="Liberation Sans, sans-serif" font-size="10px" fill="#000" text-anchor="start"  textLength="33.5" lengthAdjust="spacingAndGlyphs" stroke="#000" stroke-width="0.22">28295.0</text>
<text x="1623.6" y="217.1" font-family="Liberation Sans, sans-serif" font-size="10px" fill="#000" text-anchor="start"  textLength="33.5" lengthAdjust="spacingAndGlyphs" stroke="#000" stroke-width="0.22">28057.0</text>
<text x="1623.6" y="250.1" font-family="Liberation Sans, sans-serif" font-size="10px" fill="#000" text-anchor="start"  textLength="33.5" lengthAdjust="spacingAndGlyphs" stroke="#000" stroke-width="0.22">27819.0</text>
<text x="1623.6" y="283.1" font-family="Liberation Sans, sans-serif" font-size="10px" fill="#000" text-anchor="start"  textLength="33.5" lengthAdjust="spacingAndGlyphs" stroke="#000" stroke-width="0.22">27581.0</text>
<text x="1623.6" y="316.1" font-family="Liberation Sans, sans-serif" font-size="10px" fill="#000" text-anchor="start"  textLength="33.5" lengthAdjust="spacingAndGlyphs" stroke="#000" stroke-width="0.22">27343.0</text>
<text x="1623.6" y="349.1" font-family="Liberation Sans, sans-serif" font-size="10px" fill="#000" text-anchor="start"  textLength="33.5" lengthAdjust="spacingAndGlyphs" stroke="#000" stroke-width="0.22">27105.0</text>
<text x="1623.6" y="382.1" font-family="Liberation Sans, sans-serif" font-size="10px" fill="#000" text-anchor="start"  textLength="33.5" lengthAdjust="spacingAndGlyphs" stroke="#000" stroke-width="0.22">26860.0</text>
<text x="1623.6" y="415.1" font-family="Liberation Sans, sans-serif" font-size="10px" fill="#000" text-anchor="start"  textLength="33.5" lengthAdjust="spacingAndGlyphs" stroke="#000" stroke-width="0.22">26622.0</text>
<text x="1623.6" y="448.1" font-family="Liberation Sans, sans-serif" font-size="10px" fill="#000" text-anchor="start"  textLength="33.5" lengthAdjust="spacingAndGlyphs" stroke="#000" stroke-width="0.22">26384.0</text>
<text x="1623.6" y="481.1" font-family="Liberation Sans, sans-serif" font-size="10px" fill="#000" text-anchor="start"  textLength="33.5" lengthAdjust="spacingAndGlyphs" stroke="#000" stroke-width="0.22">26146.0</text>
<text x="1623.6" y="514.1" font-family="Liberation Sans, sans-serif" font-size="10px" fill="#000" text-anchor="start"  textLength="33.5" lengthAdjust="spacingAndGlyphs" stroke="#000" stroke-width="0.22">25908.0</text>
<text x="1623.6" y="547.1" font-family="Liberation Sans, sans-serif" font-size="10px" fill="#000" text-anchor="start"  textLength="33.5" lengthAdjust="spacingAndGlyphs" stroke="#000" stroke-width="0.22">25670.0</text>
<text x="1623.6" y="580.1" font-family="Liberation Sans, sans-serif" font-size="10px" fill="#000" text-anchor="start"  textLength="33.5" lengthAdjust="spacingAndGlyphs" stroke="#000" stroke-width="0.22">25432.0</text>
<text x="1623.6" y="151.1" font-family="Liberation Sans, sans-serif" font-size="10px" fill="#000" text-anchor="start"  textLength="33.5" lengthAdjust="spacingAndGlyphs" stroke="#000" stroke-width="0.22">28540.0</text>
<rect x="1620" y="53" width="41" height="11" fill="#ff0000" shape-rendering="crispEdges"/>
<text x="1623.6" y="62.2" font-family="Liberation Sans, sans-serif" font-size="10px" fill="#fff" text-anchor="start"  textLength="33.5" lengthAdjust="spacingAndGlyphs">29169.7</text>
<rect x="1620" y="75" width="41" height="11" fill="#ff0000" shape-rendering="crispEdges"/>
<text x="1623.6" y="84.2" font-family="Liberation Sans, sans-serif" font-size="10px" fill="#fff" text-anchor="start"  textLength="33.5" lengthAdjust="spacingAndGlyphs">29010.7</text>
<rect x="1620" y="92" width="41" height="11" fill="#32cd32" shape-rendering="crispEdges"/>
<text x="1623.6" y="101.2" font-family="Liberation Sans, sans-serif" font-size="10px" fill="#fff" text-anchor="start"  textLength="33.5" lengthAdjust="spacingAndGlyphs">28887.8</text>
<rect x="1620" y="107" width="41" height="11" fill="#000000" shape-rendering="crispEdges"/>
<text x="1623.6" y="116.2" font-family="Liberation Sans, sans-serif" font-size="10px" fill="#fff" text-anchor="start"  textLength="33.5" lengthAdjust="spacingAndGlyphs">28790.0</text>
<rect x="1620" y="123" width="41" height="11" fill="#0000ff" shape-rendering="crispEdges"/>
<text x="1623.6" y="132.2" font-family="Liberation Sans, sans-serif" font-size="10px" fill="#fff" text-anchor="start"  textLength="33.5" lengthAdjust="spacingAndGlyphs">28663.7</text>
<rect x="1620" y="145" width="41" height="11" fill="#0000ff" shape-rendering="crispEdges"/>
<text x="1623.6" y="154.2" font-family="Liberation Sans, sans-serif" font-size="10px" fill="#fff" text-anchor="start"  textLength="33.5" lengthAdjust="spacingAndGlyphs">28504.7</text>
<text x="1621.8" y="592.2" font-family="Liberation Sans, sans-serif" font-size="10px" fill="#000" text-anchor="start"  textLength="28.4" lengthAdjust="spacingAndGlyphs" stroke="#000" stroke-width="0.22">407.58</text>
<text x="1621.8" y="697.1" font-family="Liberation Sans, sans-serif" font-size="10px" fill="#000" text-anchor="start"  textLength="18.1" lengthAdjust="spacingAndGlyphs" stroke="#000" stroke-width="0.22">0.00</text>
<text x="1621.8" y="748.0" font-family="Liberation Sans, sans-serif" font-size="10px" fill="#000" text-anchor="start"  textLength="31.7" lengthAdjust="spacingAndGlyphs" stroke="#000" stroke-width="0.22">-213.22</text>
<text x="1621.8" y="764.1" font-family="Liberation Sans, sans-serif" font-size="10px" fill="#000" text-anchor="start"  textLength="15.3" lengthAdjust="spacingAndGlyphs" stroke="#000" stroke-width="0.22">100</text>
<text x="1621.8" y="793.1" font-family="Liberation Sans, sans-serif" font-size="10px" fill="#000" text-anchor="start"  textLength="10.2" lengthAdjust="spacingAndGlyphs" stroke="#000" stroke-width="0.22">80</text>
<text x="1621.8" y="844.1" font-family="Liberation Sans, sans-serif" font-size="10px" fill="#000" text-anchor="start"  textLength="10.2" lengthAdjust="spacingAndGlyphs" stroke="#000" stroke-width="0.22">50</text>
<text x="1621.8" y="905.1" font-family="Liberation Sans, sans-serif" font-size="10px" fill="#000" text-anchor="start"  textLength="10.2" lengthAdjust="spacingAndGlyphs" stroke="#000" stroke-width="0.22">15</text>
<text x="1621.8" y="923.6" font-family="Liberation Sans, sans-serif" font-size="10px" fill="#000" text-anchor="start"  textLength="5.1" lengthAdjust="spacingAndGlyphs" stroke="#000" stroke-width="0.22">0</text>
<text x="3.5" y="593.9" font-family="Liberation Sans, sans-serif" font-size="10px" fill="#000" text-anchor="start"  textLength="125.6" lengthAdjust="spacingAndGlyphs" stroke="#000" stroke-width="0.22">MACD(12,26,9) 270.01 236.60</text>
<text x="3.5" y="765.9" font-family="Liberation Sans, sans-serif" font-size="10px" fill="#000" text-anchor="start"  textLength="68.2" lengthAdjust="spacingAndGlyphs" stroke="#000" stroke-width="0.22">RSI(14) 63.0172</text>
<polygon points="2,37.1 9.4,37.1 5.7,32.8" fill="#000"/>
<text x="14.1" y="38.1" font-family="Liberation Sans, sans-serif" font-size="10px" fill="#000" text-anchor="start" xml:space="preserve" textLength="188.1" lengthAdjust="spacingAndGlyphs" stroke="#000" stroke-width="0.22">HK50-,H4&#160; 28947.0 28999.5 28790.0 28790.0</text>
<text x="-1.5" y="940.0" font-family="Liberation Sans, sans-serif" font-size="10px" fill="#000" text-anchor="start"  textLength="51.8" lengthAdjust="spacingAndGlyphs" stroke="#000" stroke-width="0.22">10 Sep 2019</text>
<text x="62.5" y="940.0" font-family="Liberation Sans, sans-serif" font-size="10px" fill="#000" text-anchor="start"  textLength="55.1" lengthAdjust="spacingAndGlyphs" stroke="#000" stroke-width="0.22">16 Sep 05:00</text>
<text x="126.5" y="940.0" font-family="Liberation Sans, sans-serif" font-size="10px" fill="#000" text-anchor="start"  textLength="55.1" lengthAdjust="spacingAndGlyphs" stroke="#000" stroke-width="0.22">20 Sep 05:00</text>
<text x="190.5" y="940.0" font-family="Liberation Sans, sans-serif" font-size="10px" fill="#000" text-anchor="start"  textLength="55.1" lengthAdjust="spacingAndGlyphs" stroke="#000" stroke-width="0.22">26 Sep 05:00</text>
<text x="254.5" y="940.0" font-family="Liberation Sans, sans-serif" font-size="10px" fill="#000" text-anchor="start"  textLength="48.7" lengthAdjust="spacingAndGlyphs" stroke="#000" stroke-width="0.22">3 Oct 05:00</text>
<text x="318.5" y="940.0" font-family="Liberation Sans, sans-serif" font-size="10px" fill="#000" text-anchor="start"  textLength="53.8" lengthAdjust="spacingAndGlyphs" stroke="#000" stroke-width="0.22">10 Oct 05:00</text>
<text x="382.5" y="940.0" font-family="Liberation Sans, sans-serif" font-size="10px" fill="#000" text-anchor="start"  textLength="53.8" lengthAdjust="spacingAndGlyphs" stroke="#000" stroke-width="0.22">16 Oct 05:00</text>
<text x="446.5" y="940.0" font-family="Liberation Sans, sans-serif" font-size="10px" fill="#000" text-anchor="start"  textLength="53.8" lengthAdjust="spacingAndGlyphs" stroke="#000" stroke-width="0.22">22 Oct 05:00</text>
<text x="510.5" y="940.0" font-family="Liberation Sans, sans-serif" font-size="10px" fill="#000" text-anchor="start"  textLength="53.8" lengthAdjust="spacingAndGlyphs" stroke="#000" stroke-width="0.22">28 Oct 05:00</text>
<text x="574.5" y="940.0" font-family="Liberation Sans, sans-serif" font-size="10px" fill="#000" text-anchor="start"  textLength="50.6" lengthAdjust="spacingAndGlyphs" stroke="#000" stroke-width="0.22">1 Nov 05:00</text>
<text x="638.5" y="940.0" font-family="Liberation Sans, sans-serif" font-size="10px" fill="#000" text-anchor="start"  textLength="50.6" lengthAdjust="spacingAndGlyphs" stroke="#000" stroke-width="0.22">7 Nov 05:00</text>
<text x="702.5" y="940.0" font-family="Liberation Sans, sans-serif" font-size="10px" fill="#000" text-anchor="start"  textLength="55.7" lengthAdjust="spacingAndGlyphs" stroke="#000" stroke-width="0.22">13 Nov 05:00</text>
<text x="766.5" y="940.0" font-family="Liberation Sans, sans-serif" font-size="10px" fill="#000" text-anchor="start"  textLength="55.7" lengthAdjust="spacingAndGlyphs" stroke="#000" stroke-width="0.22">19 Nov 05:00</text>
<text x="830.5" y="940.0" font-family="Liberation Sans, sans-serif" font-size="10px" fill="#000" text-anchor="start"  textLength="55.7" lengthAdjust="spacingAndGlyphs" stroke="#000" stroke-width="0.22">25 Nov 05:00</text>
<text x="894.5" y="940.0" font-family="Liberation Sans, sans-serif" font-size="10px" fill="#000" text-anchor="start"  textLength="55.7" lengthAdjust="spacingAndGlyphs" stroke="#000" stroke-width="0.22">29 Nov 05:00</text>
<text x="958.5" y="940.0" font-family="Liberation Sans, sans-serif" font-size="10px" fill="#000" text-anchor="start"  textLength="50.3" lengthAdjust="spacingAndGlyphs" stroke="#000" stroke-width="0.22">5 Dec 05:00</text>
<text x="1022.5" y="940.0" font-family="Liberation Sans, sans-serif" font-size="10px" fill="#000" text-anchor="start"  textLength="55.4" lengthAdjust="spacingAndGlyphs" stroke="#000" stroke-width="0.22">11 Dec 05:00</text>
<text x="1086.5" y="940.0" font-family="Liberation Sans, sans-serif" font-size="10px" fill="#000" text-anchor="start"  textLength="55.4" lengthAdjust="spacingAndGlyphs" stroke="#000" stroke-width="0.22">17 Dec 05:00</text>
<text x="1150.5" y="940.0" font-family="Liberation Sans, sans-serif" font-size="10px" fill="#000" text-anchor="start"  textLength="55.4" lengthAdjust="spacingAndGlyphs" stroke="#000" stroke-width="0.22">23 Dec 05:00</text>
<text x="1214.5" y="940.0" font-family="Liberation Sans, sans-serif" font-size="10px" fill="#000" text-anchor="start"  textLength="48.7" lengthAdjust="spacingAndGlyphs" stroke="#000" stroke-width="0.22">2 Jan 05:00</text>
<text x="1278.5" y="940.0" font-family="Liberation Sans, sans-serif" font-size="10px" fill="#000" text-anchor="start"  textLength="48.7" lengthAdjust="spacingAndGlyphs" stroke="#000" stroke-width="0.22">8 Jan 05:00</text>
<text x="1342.5" y="940.0" font-family="Liberation Sans, sans-serif" font-size="10px" fill="#000" text-anchor="start"  textLength="53.8" lengthAdjust="spacingAndGlyphs" stroke="#000" stroke-width="0.22">14 Jan 05:00</text>
<g shape-rendering="crispEdges"><rect x="1416" y="97" width="8" height="1" fill="#ff0000"/><rect x="1423.5" y="95.5" width="3" height="4" fill="#fff" stroke="#ff0000" stroke-width="1"/><rect x="1426.5" y="86.5" width="73" height="24" fill="#fff" stroke="#ff0000" stroke-width="1"/></g>
<text x="1428.2" y="105.8" font-family="Liberation Sans, sans-serif" font-size="20.8px" fill="#ff0000" text-anchor="start" textLength="70.3" lengthAdjust="spacingAndGlyphs">28887.8</text>
<text x="1439.6" y="182.8" font-family="Liberation Serif, Noto Serif CJK SC, serif" font-weight="500" font-size="31.6px" letter-spacing="0.9" fill="#000">多空转折点</text>
<text x="1438.6" y="181.8" font-family="Liberation Serif, Noto Serif CJK SC, serif" font-weight="500" font-size="31.6px" letter-spacing="0.9" fill="#00ff00">多空转折点</text>
</svg>
<div id="panel" style="position:absolute;left:0;top:0;font-family:'Liberation Sans',sans-serif">
<div class="red" style="left:2px;top:46px;width:52px;height:24px;background:linear-gradient(#f24c4c,#dc3030)"></div>
<div class="red" style="left:170px;top:46px;width:51px;height:24px;background:linear-gradient(#f24c4c,#dc3030)"></div>
<div class="red" style="left:2px;top:70px;width:109px;height:40px;background:linear-gradient(#dc3030,#c81818 50%,#ac0000)"></div>
<div class="red" style="left:113px;top:70px;width:108px;height:40px;background:linear-gradient(#dc3030,#c81818 50%,#ac0000)"></div>
<div style="position:absolute;left:6px;top:69px;width:44px;height:1px;background:#8c0000"></div>
<div style="position:absolute;left:6px;top:70px;width:44px;height:1px;background:#f4a0a0"></div>
<div style="position:absolute;left:173px;top:69px;width:44px;height:1px;background:#8c0000"></div>
<div style="position:absolute;left:173px;top:70px;width:44px;height:1px;background:#f4a0a0"></div>
<div style="position:absolute;left:2px;top:46px;width:1px;height:64px;background:#c00808"></div>
<div style="position:absolute;left:2px;top:46px;width:52px;height:1px;background:#c00808"></div>
<div style="position:absolute;left:170px;top:46px;width:51px;height:1px;background:#c00808"></div>
<div style="position:absolute;left:220px;top:46px;width:1px;height:64px;background:#a80404"></div>
<div style="position:absolute;left:2px;top:109px;width:109px;height:1px;background:#a00000"></div>
<div style="position:absolute;left:113px;top:109px;width:108px;height:1px;background:#a00000"></div>
<div style="position:absolute;left:53px;top:46px;width:1px;height:24px;background:#c00808"></div>
<div style="position:absolute;left:170px;top:46px;width:1px;height:24px;background:#c00808"></div>
<div style="position:absolute;left:110px;top:70px;width:1px;height:40px;background:#a80404"></div>
<div style="position:absolute;left:113px;top:70px;width:1px;height:40px;background:#c00808"></div>
<div class="t" style="left:14.4px;top:51px;color:#fff;font-size:12px;line-height:14px"><span style="display:inline-block;transform-origin:0 0;transform:scaleX(.865)">SELL</span></div>
<div class="t" style="left:182.2px;top:51px;color:#fff;font-size:12px;line-height:14px"><span style="display:inline-block;transform-origin:0 0;transform:scaleX(.89)">BUY</span></div>
<div style="position:absolute;left:56px;top:46px;width:109px;height:20px;background:#fff;border:1px solid #a6a9b2"></div>
<div style="position:absolute;left:58px;top:48px;width:19px;height:18px;background:linear-gradient(#f2f2f2,#d8d8d8);border-right:1px solid #b8b8c8"></div>
<div style="position:absolute;left:145px;top:48px;width:19px;height:18px;background:linear-gradient(#f2f2f2,#d8d8d8);border-left:1px solid #b8b8c8"></div>
<div style="position:absolute;left:63.5px;top:55px;width:0;height:0;border-left:3px solid transparent;border-right:3px solid transparent;border-top:3px solid #4a5ac0"></div>
<div style="position:absolute;left:152.5px;top:54px;width:0;height:0;border-left:3px solid transparent;border-right:3px solid transparent;border-bottom:3px solid #6a78d0"></div>
<div class="t" style="left:99.5px;top:49.8px;width:43px;text-align:right;color:#000;font-size:12.5px;line-height:15px">1.00</div>
<div class="t" style="left:18.2px;top:89.8px;color:#fff;font-size:11.5px;font-weight:bold;line-height:14px;letter-spacing:.6px">28788</div>
<div class="t" style="left:128.6px;top:89.8px;color:#fff;font-size:11.5px;font-weight:bold;line-height:14px;letter-spacing:.6px">28805</div>
<div style="position:absolute;left:57.5px;top:96.6px;width:4.6px;height:4px;background:#fff"></div>
<div style="position:absolute;left:168.3px;top:96.6px;width:4.6px;height:4px;background:#fff"></div>
<div class="t" id="big1" style="left:63.3px;top:70.2px;color:#fff;font-size:35px;line-height:38px"><span style="display:inline-block;transform-origin:0 0;transform:scaleX(.9)">5</span></div>
<div class="t" id="big2" style="left:174.1px;top:70.2px;color:#fff;font-size:35px;line-height:38px"><span style="display:inline-block;transform-origin:0 0;transform:scaleX(.9)">5</span></div>
</div>

</body></html>
